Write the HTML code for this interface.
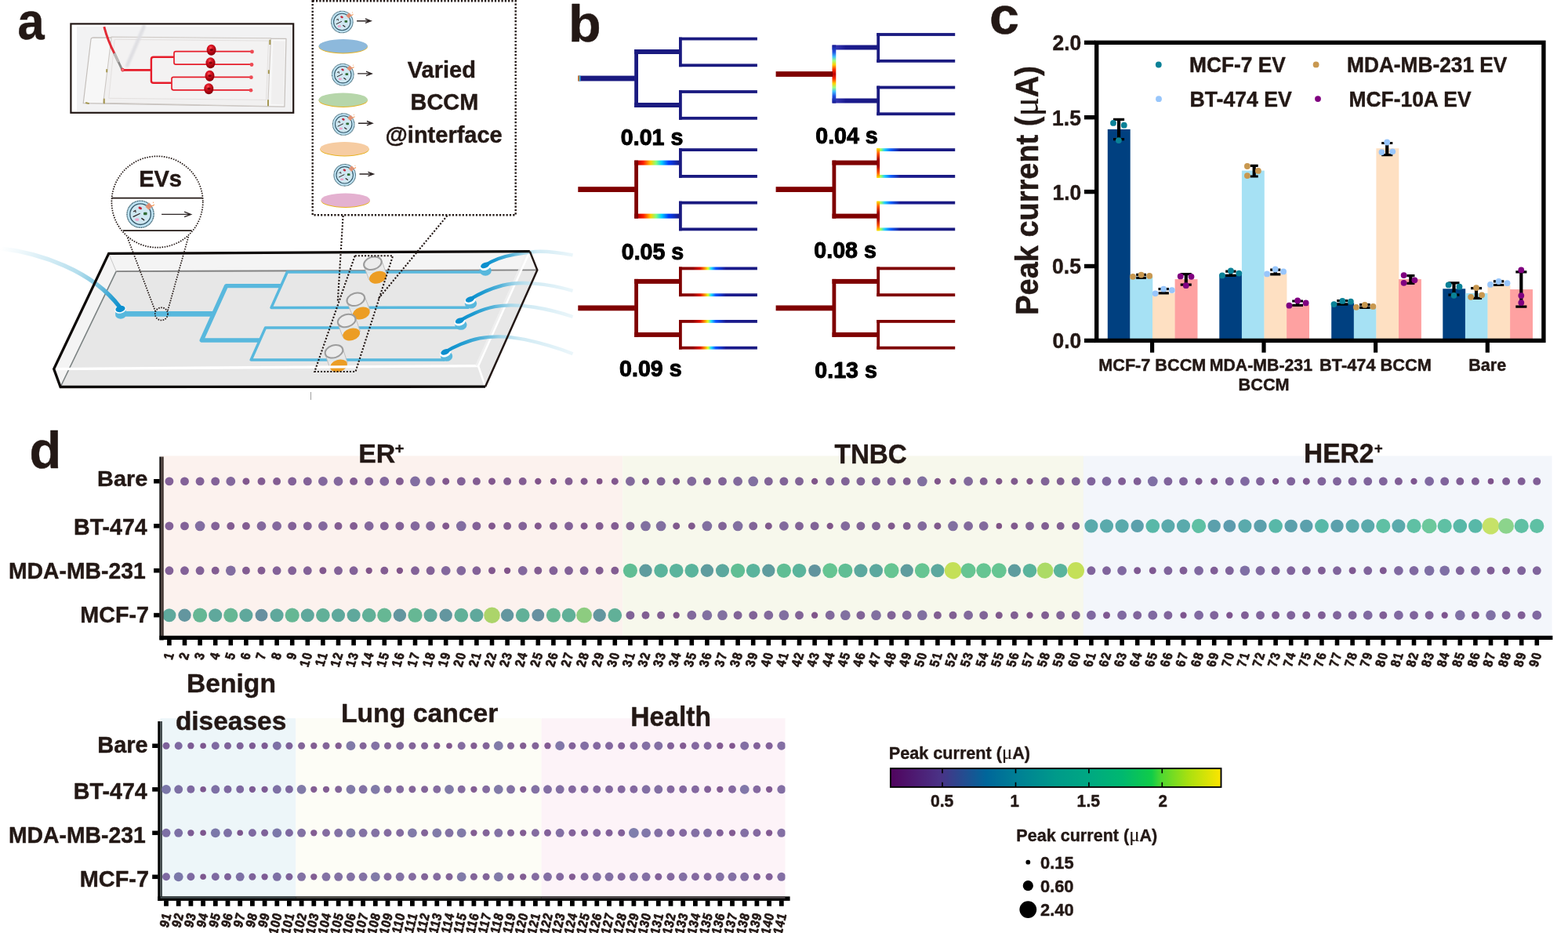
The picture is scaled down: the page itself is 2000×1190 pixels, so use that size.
<!DOCTYPE html>
<html lang="en">
<head>
<meta charset="utf-8">
<title>Figure</title>
<style>
html,body{margin:0;padding:0;background:#fff;}
body{width:2000px;height:1190px;overflow:hidden;}
svg{display:block;}
text{font-family:"Liberation Sans",sans-serif;font-weight:bold;fill:#231815;stroke:#231815;stroke-linejoin:round;}
.k{fill:#000;stroke:#000;}
.sym{font-family:"Liberation Serif",serif;font-weight:normal;stroke-width:0.2px;}
</style>
</head>
<body>
<svg width="2000" height="1190" viewBox="0 0 2000 1190">
<rect x="0" y="0" width="2000" height="1190" fill="#ffffff"/>
<g id="panel-a">
<text transform="translate(22.48,49.51) scale(0.9189,1)" font-size="66.82" stroke-width="0.45">a</text>
<g id="photo"><defs><filter id="blur1" x="-20%" y="-20%" width="140%" height="140%"><feGaussianBlur stdDeviation="1.1"/></filter><filter id="blur2" x="-20%" y="-20%" width="140%" height="140%"><feGaussianBlur stdDeviation="0.45"/></filter><radialGradient id="ball" cx="0.42" cy="0.3" r="0.75"><stop offset="0" stop-color="#ff5a5e"/><stop offset="0.25" stop-color="#e21a28"/><stop offset="0.6" stop-color="#b00612"/><stop offset="1" stop-color="#7c0008"/></radialGradient></defs><rect x="90.4" y="30.4" width="283.8" height="113.4" fill="#ffffff"/><rect x="98" y="33.6" width="274.6" height="108.6" fill="#f2f2f3"/><g filter="url(#blur2)"><path d="M119.3,47.9L365.0,49.4L362.9,136.2L106.2,131.7L116.0,50.0Q116.4,47.9 119.3,47.9Z" fill="#f7f7f7" stroke="#c4bfbb" stroke-width="1.2" stroke-linejoin="round"/><path d="M142.2,47.0L345.5,48.8L341.7,135.5L131.7,131.3Z" fill="#f1f0f0" stroke="#cdc8c4" stroke-width="1.1"/><path d="M146.3,50.3L342.5,52.1L339.5,127.4L138.8,125.3Z" fill="#f3f2f2" stroke="#e0dcda" stroke-width="0.8"/><path d="M348.5,52.2L363.5,52.7L361.4,133.2L345.8,132.8Z" fill="#f0efef" stroke="none"/><path d="M183.5,34.2L162.2,83.7" stroke="#dedee2" stroke-width="4.6" stroke-linecap="round" fill="none" opacity="0.95" filter="url(#blur1)"/><path d="M136.2,88.2L136.2,92.3" stroke="#a3954c" stroke-width="1.9" fill="none"/><path d="M132.8,125.7L132.8,132.2" stroke="#a3954c" stroke-width="1.9" fill="none"/><path d="M344.3,50.7L344.3,57.0" stroke="#a3954c" stroke-width="1.9" fill="none"/><path d="M342.8,89.3L342.8,94.1" stroke="#a3954c" stroke-width="1.9" fill="none"/><path d="M342.0,127.2L342.0,135.2" stroke="#a3954c" stroke-width="1.9" fill="none"/><path d="M109.2,131.0L113.7,132.2" stroke="#a3954c" stroke-width="1.9" fill="none"/><path d="M155.7,89.3H192.5" stroke="#e61e2a" stroke-width="2.8" fill="none"/><path d="M221.7,72.8H195.8Q192.9,72.8 192.9,75.8V102.9Q192.9,105.8 195.8,105.8H218.7" stroke="#e61e2a" stroke-width="2.4" fill="none"/><path d="M321.5,65.7H224.3Q222.0,65.7 222.0,68.0V80.0Q222.0,82.1 224.3,82.1H321.0" stroke="#e61e2a" stroke-width="1.7" fill="none"/><path d="M320.4,98.3H221.3Q219.0,98.3 219.0,100.5V112.5Q219.0,114.8 221.3,114.8H320.0" stroke="#e61e2a" stroke-width="1.7" fill="none"/><ellipse cx="269.6" cy="63.8" rx="6.0" ry="7.0" fill="url(#ball)"/><ellipse cx="269.8" cy="63.6" rx="2.2" ry="1.6" fill="#6c0006" opacity="0.8"/><ellipse cx="268.5" cy="80.3" rx="6.0" ry="7.0" fill="url(#ball)"/><ellipse cx="268.7" cy="80.1" rx="2.2" ry="1.6" fill="#6c0006" opacity="0.8"/><ellipse cx="267.5" cy="96.8" rx="6.0" ry="7.0" fill="url(#ball)"/><ellipse cx="267.7" cy="96.6" rx="2.2" ry="1.6" fill="#6c0006" opacity="0.8"/><ellipse cx="266.3" cy="113.3" rx="6.0" ry="7.0" fill="url(#ball)"/><ellipse cx="266.5" cy="113.1" rx="2.2" ry="1.6" fill="#6c0006" opacity="0.8"/><circle cx="321.5" cy="66.0" r="2.4" fill="#ee4a52"/><circle cx="321.0" cy="82.5" r="2.4" fill="#ee4a52"/><circle cx="320.4" cy="98.7" r="2.4" fill="#ee4a52"/><circle cx="320.0" cy="115.2" r="2.4" fill="#ee4a52"/><path d="M132.8,34.2C135.8,45.5 140.3,57.5 146.0,68.3" stroke="#e22a36" stroke-width="2.9" fill="none"/><path d="M145.7,67.7L155.3,87.8" stroke="#8a8887" stroke-width="2.8" fill="none"/><path d="M146.0,68.3L151.1,79.2" stroke="#b9b6b4" stroke-width="3.4" fill="none"/><circle cx="156.5" cy="89.1" r="1.9" fill="#f08088" stroke="#e61e2a" stroke-width="0.9"/></g><rect x="90.4" y="30.4" width="283.8" height="113.4" fill="none" stroke="#231815" stroke-width="2.2"/></g>
<g id="slab">
<defs><linearGradient id="tubeL" gradientUnits="userSpaceOnUse" x1="0" y1="318" x2="153" y2="392"><stop offset="0" stop-color="#d9eef6" stop-opacity="0"/><stop offset="0.3" stop-color="#d4ecf5" stop-opacity="0.85"/><stop offset="0.6" stop-color="#b4deed"/><stop offset="0.78" stop-color="#7cc4df"/><stop offset="0.92" stop-color="#2b9fd1"/><stop offset="1" stop-color="#0b8fce"/></linearGradient><linearGradient id="tubeR" gradientUnits="objectBoundingBox" x1="0" y1="0" x2="1" y2="0"><stop offset="0" stop-color="#0b8fce"/><stop offset="0.12" stop-color="#1c9ad0"/><stop offset="0.3" stop-color="#55b3d9"/><stop offset="0.45" stop-color="#a3d6e9" stop-opacity="0.95"/><stop offset="0.6" stop-color="#c9e7f2" stop-opacity="0.85"/><stop offset="0.85" stop-color="#d9eef6" stop-opacity="0.8"/><stop offset="1" stop-color="#e2f2f8" stop-opacity="0.7"/></linearGradient></defs>
<polygon points="138.7,323.4 675.8,320.6 685.3,344.4 619.0,493.2 77.1,493.5 68.7,470.6" fill="#e7e7e7"/>
<polygon points="138.7,323.4 675.8,320.6 685.3,344.4 148.2,346.1" fill="#f4f4f4"/>
<polygon points="138.7,323.4 148.2,346.1 77.1,493.5 68.7,470.6" fill="#f4f4f4"/>
<path d="M148.2,346.1L685.3,344.4" stroke="#828282" stroke-width="1.9" fill="none"/>
<path d="M148.2,346.1L77.1,493.5" stroke="#7a8181" stroke-width="1.6" fill="none"/>
<path d="M138.7,323.4L148.2,346.1" stroke="#c4c4c4" stroke-width="0.9" fill="none"/>
<path d="M616,347L366.3,347L346,392.4L598,392.2" stroke="#58b8dd" stroke-width="3.5" stroke-linejoin="round" stroke-linecap="butt" fill="none"/><path d="M585,417.9L338.6,417.9L320.2,459L567,459" stroke="#58b8dd" stroke-width="3.5" stroke-linejoin="round" stroke-linecap="butt" fill="none"/><path d="M358.6,364.6L288.6,364.6L257.2,434L331.4,434" stroke="#58b8dd" stroke-width="5.3" stroke-linejoin="round" stroke-linecap="butt" fill="none"/><path d="M158,400.4H272.6" stroke="#58b8dd" stroke-width="6.6" fill="none"/>
<path d="M147.2,395.5v6.6a6.7,4.6 0 0 0 13.4,0v-6.6z" fill="#58b8dd"/>
<ellipse cx="153.5" cy="394.6" rx="7.4" ry="5.1" fill="#ffffff" transform="rotate(-12 153.5 394.6)"/>
<ellipse cx="153.5" cy="394.0" rx="6.2" ry="4.0" fill="#0b8fce" transform="rotate(-12 153.5 394.0)"/>
<path d="M-2,316.5C50,322 118,345 153,392" stroke="url(#tubeL)" stroke-width="5.4" fill="none" stroke-linecap="round"/>
<ellipse cx="619.2" cy="345.3" rx="7.6" ry="6.4" fill="#58b8dd"/>
<ellipse cx="618.5" cy="340.2" rx="7.2" ry="4.6" fill="#ffffff" transform="rotate(-18 618.2 338.8)"/>
<ellipse cx="600.5" cy="387.2" rx="7.6" ry="6.4" fill="#58b8dd"/>
<ellipse cx="599.3" cy="383.59999999999997" rx="7.2" ry="4.6" fill="#ffffff" transform="rotate(-18 599.0 382.2)"/>
<ellipse cx="587.9" cy="414.4" rx="7.6" ry="6.4" fill="#58b8dd"/>
<ellipse cx="586.1999999999999" cy="410.79999999999995" rx="7.2" ry="4.6" fill="#ffffff" transform="rotate(-18 585.9 409.4)"/>
<ellipse cx="569.6" cy="454.4" rx="7.6" ry="6.4" fill="#58b8dd"/>
<ellipse cx="567.6999999999999" cy="450.7" rx="7.2" ry="4.6" fill="#ffffff" transform="rotate(-18 567.4 449.3)"/>
<polygon points="463.79999999999995,338.3 470.7,356.8 493.29999999999995,350.6 487.0,332.7" fill="#e9e9e9" opacity="0.92"/>
<ellipse cx="481.9" cy="353.8" rx="11.3" ry="7.6" fill="#ec9d24" transform="rotate(-17 481.9 353.8)"/>
<path d="M463.9,338.5L470.79999999999995,357.0 M486.9,332.5L493.2,350.40000000000003" stroke="#bdbdbd" stroke-width="1" fill="none"/>
<ellipse cx="475.4" cy="335.7" rx="11.6" ry="7.9" fill="#ececec" stroke="#9c9c9c" stroke-width="2" transform="rotate(-17 475.4 335.7)"/>
<polygon points="442.2,384.40000000000003 449.6,402.5 472.2,396.3 465.40000000000003,378.8" fill="#e9e9e9" opacity="0.92"/>
<ellipse cx="460.8" cy="399.5" rx="11.3" ry="7.6" fill="#ec9d24" transform="rotate(-17 460.8 399.5)"/>
<path d="M442.3,384.6L449.7,402.7 M465.3,378.6L472.1,396.1" stroke="#bdbdbd" stroke-width="1" fill="none"/>
<ellipse cx="453.8" cy="381.8" rx="11.6" ry="7.9" fill="#ececec" stroke="#9c9c9c" stroke-width="2" transform="rotate(-17 453.8 381.8)"/>
<polygon points="430.59999999999997,411.6 437.0,429.4 459.59999999999997,423.2 453.8,406.0" fill="#e9e9e9" opacity="0.92"/>
<ellipse cx="448.2" cy="426.4" rx="11.3" ry="7.6" fill="#ec9d24" transform="rotate(-17 448.2 426.4)"/>
<path d="M430.7,411.8L437.09999999999997,429.59999999999997 M453.7,405.8L459.5,423.0" stroke="#bdbdbd" stroke-width="1" fill="none"/>
<ellipse cx="442.2" cy="409.0" rx="11.6" ry="7.9" fill="#ececec" stroke="#9c9c9c" stroke-width="2" transform="rotate(-17 442.2 409.0)"/>
<polygon points="414.4,450.90000000000003 420.8,469.5 443.4,463.3 437.6,445.3" fill="#e9e9e9" opacity="0.92"/>
<ellipse cx="432.0" cy="466.5" rx="11.3" ry="7.6" fill="#ec9d24" transform="rotate(-17 432.0 466.5)"/>
<path d="M414.5,451.1L420.9,469.7 M437.5,445.1L443.3,463.1" stroke="#bdbdbd" stroke-width="1" fill="none"/>
<ellipse cx="426.0" cy="448.3" rx="11.6" ry="7.9" fill="#ececec" stroke="#9c9c9c" stroke-width="2" transform="rotate(-17 426.0 448.3)"/>
<path d="M68.7,470.6L610.0,466.6" stroke="#ffffff" stroke-width="3.4" fill="none"/>
<path d="M610.0,466.6L674.3,323.4 M610.0,466.6L619.0,493.2" stroke="#ffffff" stroke-width="2.6" fill="none" stroke-linejoin="round"/>
<path d="M607.4,466.6L671.6,323.6" stroke="#f1f1f1" stroke-width="2.6" fill="none" opacity="0.8"/>
<path d="M618.2,338.8C626,333.4 640,327.4 656,324.6C664,323.4 670,322.6 676.5,321.6C690,319.6 710,321.5 730.6,325.4" stroke="url(#tubeR)" stroke-width="4.4" fill="none" stroke-linecap="butt"/>
<ellipse cx="618.8000000000001" cy="338.6" rx="5.9" ry="3.4" fill="#0b8fce" transform="rotate(-22 618.2 338.8)"/>
<path d="M599,382.2C608,376.5 624,368.5 640.9,364C654,360.6 668,360.4 681.2,361.6C698,363 714,366 730.6,370.8" stroke="url(#tubeR)" stroke-width="4.4" fill="none" stroke-linecap="butt"/>
<ellipse cx="599.6" cy="382.0" rx="5.9" ry="3.4" fill="#0b8fce" transform="rotate(-22 599.0 382.2)"/>
<path d="M585.9,409.4C596,403 614,394.6 630.8,391.2C644,388.8 664,389.2 681.2,391.8C698,394.4 714,398.4 730.6,404" stroke="url(#tubeR)" stroke-width="4.4" fill="none" stroke-linecap="butt"/>
<ellipse cx="586.5" cy="409.2" rx="5.9" ry="3.4" fill="#0b8fce" transform="rotate(-22 585.9 409.4)"/>
<path d="M567.4,449.3C578,442.5 596,434.6 612,431.4C632,427.8 652,429.4 670,433.2C692,438 712,444 730.6,451.2" stroke="url(#tubeR)" stroke-width="4.4" fill="none" stroke-linecap="butt"/>
<ellipse cx="568.0" cy="449.1" rx="5.9" ry="3.4" fill="#0b8fce" transform="rotate(-22 567.4 449.3)"/>
<path d="M675.8,320.6L138.7,323.4L68.7,470.6L77.1,493.5L619.0,493.2" fill="none" stroke="#0d0907" stroke-width="3.3" stroke-linejoin="miter"/>
<path d="M675.8,320.6L685.3,344.4L619.0,493.2" fill="none" stroke="#231815" stroke-width="2.5" stroke-linejoin="miter"/>
<path d="M452.7,326.3H501.1L453.5,474H401.3Z" fill="none" stroke="#231815" stroke-width="2.1" stroke-dasharray="2.1 2.0"/>
<path d="M437.6,275L430.8,384.2" fill="none" stroke="#231815" stroke-width="2.1" stroke-dasharray="2.1 2.0"/>
<path d="M570.5,275L482.4,381.2" fill="none" stroke="#231815" stroke-width="2.1" stroke-dasharray="2.1 2.0"/>
<path d="M162.6,303L198.2,397.2 M240.3,302L213.7,397.2" fill="none" stroke="#231815" stroke-width="1.7" stroke-dasharray="1.6 1.5"/>
<circle cx="205.9" cy="400.4" r="8.1" fill="none" stroke="#231815" stroke-width="1.7" stroke-dasharray="1.6 1.5"/>
<g id="magnifier"><circle cx="200.6" cy="257.5" r="58.2" fill="#ffffff" stroke="#231815" stroke-width="1.7" stroke-dasharray="1.6 1.5"/><path d="M142.6,252.6H258.6M156.8,294.1H244.6" stroke="#231815" stroke-width="1.9" fill="none"/><text transform="translate(177.14,238.28) scale(1.0097,1)" font-size="28.77" stroke-width="0.45">EVs</text><g transform="translate(179.1,273.2) scale(1.24)"><circle r="13.8" fill="#bfe3f3" stroke="#3f6675" stroke-width="1.1" stroke-dasharray="0.9 0.35"/><circle r="10.7" fill="#cfe7f1" stroke="#35596a" stroke-width="1.1"/><g transform="translate(8.7,-8.1) rotate(-45)"><rect x="-2.7" y="-2.5" width="5.4" height="5" fill="#e79c7e"/><path d="M-1.35,-2.5V2.5M0,-2.5V2.5M1.35,-2.5V2.5M-2.7,-1.2H2.7M-2.7,0.1H2.7M-2.7,1.4H2.7" stroke="#d5826a" stroke-width="0.45" fill="none"/></g><path d="M11.4,-8.6l2.3,-0.3l0.2,-1.3M13.2,-11.6v-0.9" stroke="#f0853a" stroke-width="0.8" fill="none"/><ellipse cx="-0.3" cy="-6.3" rx="1.9" ry="1.3" fill="#c1283a" transform="rotate(25 -0.3 -6.3)"/><rect x="3.2" y="-2.0" width="3.6" height="2.8" rx="0.7" fill="#2f6b33"/><rect x="-5.4" y="4.2" width="3.9" height="2.6" rx="0.9" fill="#f0a3c9"/><path d="M-7.2,2.6L-0.7,-0.6" stroke="#2e2626" stroke-width="1" stroke-linecap="round" fill="none"/><path d="M-7.3,-2.6l2.2,-1.2l0.3,2.2" stroke="#2e2626" stroke-width="0.9" fill="none"/><path d="M1.4,4.4l2.3,1.6" stroke="#2e2626" stroke-width="1.2" stroke-linecap="round" fill="none"/></g><path d="M206.1,273.4H243.6M235.1,270.2L243.6,273.4L235.1,276.59999999999997" stroke="#2e2626" stroke-width="1.3" fill="none" stroke-linejoin="miter"/></g>
<g id="bccm-box"><rect x="398.7" y="1.3" width="259" height="272.9" fill="#ffffff" stroke="#231815" stroke-width="2.4" stroke-dasharray="2.2 2.1"/><g transform="translate(436.3,28.0) scale(1.0)"><circle r="13.8" fill="#bfe3f3" stroke="#3f6675" stroke-width="1.1" stroke-dasharray="0.9 0.35"/><circle r="10.7" fill="#cfe7f1" stroke="#35596a" stroke-width="1.1"/><g transform="translate(8.7,-8.1) rotate(-45)"><rect x="-2.7" y="-2.5" width="5.4" height="5" fill="#e79c7e"/><path d="M-1.35,-2.5V2.5M0,-2.5V2.5M1.35,-2.5V2.5M-2.7,-1.2H2.7M-2.7,0.1H2.7M-2.7,1.4H2.7" stroke="#d5826a" stroke-width="0.45" fill="none"/></g><path d="M11.4,-8.6l2.3,-0.3l0.2,-1.3M13.2,-11.6v-0.9" stroke="#f0853a" stroke-width="0.8" fill="none"/><ellipse cx="-0.3" cy="-6.3" rx="1.9" ry="1.3" fill="#c1283a" transform="rotate(25 -0.3 -6.3)"/><rect x="3.2" y="-2.0" width="3.6" height="2.8" rx="0.7" fill="#2f6b33"/><rect x="-5.4" y="4.2" width="3.9" height="2.6" rx="0.9" fill="#f0a3c9"/><path d="M-7.2,2.6L-0.7,-0.6" stroke="#2e2626" stroke-width="1" stroke-linecap="round" fill="none"/><path d="M-7.3,-2.6l2.2,-1.2l0.3,2.2" stroke="#2e2626" stroke-width="0.9" fill="none"/><path d="M1.4,4.4l2.3,1.6" stroke="#2e2626" stroke-width="1.2" stroke-linecap="round" fill="none"/></g><path d="M455.1,26.7H473.0M466.0,24.0L473.0,26.7L466.0,29.4" stroke="#2e2626" stroke-width="1.4" fill="none" stroke-linejoin="miter"/><g transform="translate(437.3,95.2) scale(1.0)"><circle r="13.8" fill="#bfe3f3" stroke="#3f6675" stroke-width="1.1" stroke-dasharray="0.9 0.35"/><circle r="10.7" fill="#cfe7f1" stroke="#35596a" stroke-width="1.1"/><g transform="translate(8.7,-8.1) rotate(-45)"><rect x="-2.7" y="-2.5" width="5.4" height="5" fill="#e79c7e"/><path d="M-1.35,-2.5V2.5M0,-2.5V2.5M1.35,-2.5V2.5M-2.7,-1.2H2.7M-2.7,0.1H2.7M-2.7,1.4H2.7" stroke="#d5826a" stroke-width="0.45" fill="none"/></g><path d="M11.4,-8.6l2.3,-0.3l0.2,-1.3M13.2,-11.6v-0.9" stroke="#f0853a" stroke-width="0.8" fill="none"/><ellipse cx="-0.3" cy="-6.3" rx="1.9" ry="1.3" fill="#c1283a" transform="rotate(25 -0.3 -6.3)"/><rect x="3.2" y="-2.0" width="3.6" height="2.8" rx="0.7" fill="#2f6b33"/><rect x="-5.4" y="4.2" width="3.9" height="2.6" rx="0.9" fill="#f0a3c9"/><path d="M-7.2,2.6L-0.7,-0.6" stroke="#2e2626" stroke-width="1" stroke-linecap="round" fill="none"/><path d="M-7.3,-2.6l2.2,-1.2l0.3,2.2" stroke="#2e2626" stroke-width="0.9" fill="none"/><path d="M1.4,4.4l2.3,1.6" stroke="#2e2626" stroke-width="1.2" stroke-linecap="round" fill="none"/></g><path d="M456.1,93.9H474.0M467.0,91.2L474.0,93.9L467.0,96.60000000000001" stroke="#2e2626" stroke-width="1.4" fill="none" stroke-linejoin="miter"/><g transform="translate(438.2,158.5) scale(1.0)"><circle r="13.8" fill="#bfe3f3" stroke="#3f6675" stroke-width="1.1" stroke-dasharray="0.9 0.35"/><circle r="10.7" fill="#cfe7f1" stroke="#35596a" stroke-width="1.1"/><g transform="translate(8.7,-8.1) rotate(-45)"><rect x="-2.7" y="-2.5" width="5.4" height="5" fill="#e79c7e"/><path d="M-1.35,-2.5V2.5M0,-2.5V2.5M1.35,-2.5V2.5M-2.7,-1.2H2.7M-2.7,0.1H2.7M-2.7,1.4H2.7" stroke="#d5826a" stroke-width="0.45" fill="none"/></g><path d="M11.4,-8.6l2.3,-0.3l0.2,-1.3M13.2,-11.6v-0.9" stroke="#f0853a" stroke-width="0.8" fill="none"/><ellipse cx="-0.3" cy="-6.3" rx="1.9" ry="1.3" fill="#c1283a" transform="rotate(25 -0.3 -6.3)"/><rect x="3.2" y="-2.0" width="3.6" height="2.8" rx="0.7" fill="#2f6b33"/><rect x="-5.4" y="4.2" width="3.9" height="2.6" rx="0.9" fill="#f0a3c9"/><path d="M-7.2,2.6L-0.7,-0.6" stroke="#2e2626" stroke-width="1" stroke-linecap="round" fill="none"/><path d="M-7.3,-2.6l2.2,-1.2l0.3,2.2" stroke="#2e2626" stroke-width="0.9" fill="none"/><path d="M1.4,4.4l2.3,1.6" stroke="#2e2626" stroke-width="1.2" stroke-linecap="round" fill="none"/></g><path d="M457.0,157.2H474.9M467.9,154.5L474.9,157.2L467.9,159.89999999999998" stroke="#2e2626" stroke-width="1.4" fill="none" stroke-linejoin="miter"/><g transform="translate(439.7,223.3) scale(1.0)"><circle r="13.8" fill="#bfe3f3" stroke="#3f6675" stroke-width="1.1" stroke-dasharray="0.9 0.35"/><circle r="10.7" fill="#cfe7f1" stroke="#35596a" stroke-width="1.1"/><g transform="translate(8.7,-8.1) rotate(-45)"><rect x="-2.7" y="-2.5" width="5.4" height="5" fill="#e79c7e"/><path d="M-1.35,-2.5V2.5M0,-2.5V2.5M1.35,-2.5V2.5M-2.7,-1.2H2.7M-2.7,0.1H2.7M-2.7,1.4H2.7" stroke="#d5826a" stroke-width="0.45" fill="none"/></g><path d="M11.4,-8.6l2.3,-0.3l0.2,-1.3M13.2,-11.6v-0.9" stroke="#f0853a" stroke-width="0.8" fill="none"/><ellipse cx="-0.3" cy="-6.3" rx="1.9" ry="1.3" fill="#c1283a" transform="rotate(25 -0.3 -6.3)"/><rect x="3.2" y="-2.0" width="3.6" height="2.8" rx="0.7" fill="#2f6b33"/><rect x="-5.4" y="4.2" width="3.9" height="2.6" rx="0.9" fill="#f0a3c9"/><path d="M-7.2,2.6L-0.7,-0.6" stroke="#2e2626" stroke-width="1" stroke-linecap="round" fill="none"/><path d="M-7.3,-2.6l2.2,-1.2l0.3,2.2" stroke="#2e2626" stroke-width="0.9" fill="none"/><path d="M1.4,4.4l2.3,1.6" stroke="#2e2626" stroke-width="1.2" stroke-linecap="round" fill="none"/></g><path d="M458.5,222.0H476.4M469.4,219.3L476.4,222.0L469.4,224.7" stroke="#2e2626" stroke-width="1.4" fill="none" stroke-linejoin="miter"/><ellipse cx="437.7" cy="59.699999999999996" rx="31.2" ry="8.8" fill="#e8b322"/><ellipse cx="437.7" cy="58.8" rx="31.2" ry="8.7" fill="#8db9dc"/><ellipse cx="437.7" cy="128.1" rx="31.2" ry="8.8" fill="#e8b322"/><ellipse cx="437.7" cy="127.2" rx="31.2" ry="8.7" fill="#b6d6aa"/><ellipse cx="439.5" cy="190.6" rx="31.2" ry="8.8" fill="#e8b322"/><ellipse cx="439.5" cy="189.7" rx="31.2" ry="8.7" fill="#f6cca2"/><ellipse cx="440.7" cy="256.09999999999997" rx="31.2" ry="8.8" fill="#e8b322"/><ellipse cx="440.7" cy="255.2" rx="31.2" ry="8.7" fill="#e4b1d0"/><text transform="translate(519.78,98.68) scale(0.9842,1)" font-size="29.49" stroke-width="0.45">Varied</text><text transform="translate(523.55,140.47) scale(0.9854,1)" font-size="29.35" stroke-width="0.45">BCCM</text><text transform="translate(491.53,182.18) scale(1.0095,1)" font-size="28.76" stroke-width="0.45">@interface</text></g>
<path d="M396.5,500V510" stroke="#777" stroke-width="0.7"/>
</g></g><g id="panel-b">
<defs>
<linearGradient id="jetH" x1="0" y1="0" x2="1" y2="0">
<stop offset="0" stop-color="#7f0000"/><stop offset="0.08" stop-color="#c00000"/><stop offset="0.2" stop-color="#ff2000"/><stop offset="0.36" stop-color="#ffd000"/><stop offset="0.48" stop-color="#80ff80"/><stop offset="0.6" stop-color="#00d0ff"/><stop offset="0.75" stop-color="#0040ff"/><stop offset="1" stop-color="#1a1a80"/>
</linearGradient>
<linearGradient id="jetV" x1="0" y1="0" x2="0" y2="1">
<stop offset="0" stop-color="#1a1a90"/><stop offset="0.12" stop-color="#2050e0"/><stop offset="0.2" stop-color="#40c0ff"/><stop offset="0.27" stop-color="#a0ff80"/><stop offset="0.34" stop-color="#ffd000"/><stop offset="0.42" stop-color="#ff3000"/><stop offset="0.5" stop-color="#c00000"/><stop offset="0.58" stop-color="#ff3000"/><stop offset="0.66" stop-color="#ffd000"/><stop offset="0.73" stop-color="#a0ff80"/><stop offset="0.8" stop-color="#40c0ff"/><stop offset="0.88" stop-color="#2050e0"/><stop offset="1" stop-color="#1a1a90"/>
</linearGradient>
<linearGradient id="v2g" x1="0" y1="0" x2="0" y2="1">
<stop offset="0" stop-color="#ffe000"/><stop offset="0.18" stop-color="#ff5000"/><stop offset="0.4" stop-color="#a00000"/><stop offset="0.6" stop-color="#a00000"/><stop offset="0.82" stop-color="#ff5000"/><stop offset="1" stop-color="#ffe000"/>
</linearGradient>
<linearGradient id="h2a" x1="0" y1="0" x2="1" y2="0">
<stop offset="0" stop-color="#ffe000"/><stop offset="0.05" stop-color="#a0ff60"/><stop offset="0.1" stop-color="#20d0ff"/><stop offset="0.18" stop-color="#1060ff"/><stop offset="0.3" stop-color="#1a1a90"/><stop offset="1" stop-color="#1a1a80"/>
</linearGradient>
<linearGradient id="h2b" x1="0" y1="0" x2="1" y2="0">
<stop offset="0" stop-color="#7f0000"/><stop offset="0.18" stop-color="#900000"/><stop offset="0.27" stop-color="#e01000"/><stop offset="0.33" stop-color="#ff9000"/><stop offset="0.37" stop-color="#e0ff20"/><stop offset="0.41" stop-color="#20e0ff"/><stop offset="0.47" stop-color="#1050ff"/><stop offset="0.6" stop-color="#1a1a90"/><stop offset="1" stop-color="#1a1a80"/>
</linearGradient>
<linearGradient id="h1b" x1="0" y1="0" x2="1" y2="0">
<stop offset="0" stop-color="#4040c0"/><stop offset="0.3" stop-color="#1a1a90"/><stop offset="1" stop-color="#1a1a80"/>
</linearGradient>
</defs>
<rect x="866.0" y="47.6" width="99.9" height="3.8" fill="#1a1a80"/><rect x="866.0" y="81.4" width="99.9" height="3.8" fill="#1a1a80"/><rect x="866.0" y="115.1" width="99.9" height="3.8" fill="#1a1a80"/><rect x="866.0" y="148.9" width="99.9" height="3.8" fill="#1a1a80"/><rect x="866.0" y="47.6" width="3.8" height="37.6" fill="#1a1a80"/><rect x="866.0" y="115.1" width="3.8" height="37.6" fill="#1a1a80"/><rect x="809.2" y="63.0" width="57.8" height="6" fill="#1a1a80"/><rect x="809.2" y="131.0" width="57.8" height="6" fill="#1a1a80"/><rect x="809.2" y="63.0" width="4.8" height="74" fill="#1a1a80"/><rect x="737.3" y="96.6" width="72.5" height="6.8" fill="#1a1a80"/>
<rect x="737.3" y="96.6" width="1.6" height="6.8" fill="#e08020"/><rect x="738.9" y="96.6" width="1.6" height="6.8" fill="#30b0e0"/>
<rect x="1118.3" y="42.1" width="99.9" height="3.8" fill="#1a1a80"/><rect x="1118.3" y="75.9" width="99.9" height="3.8" fill="#1a1a80"/><rect x="1118.3" y="109.6" width="99.9" height="3.8" fill="#1a1a80"/><rect x="1118.3" y="143.4" width="99.9" height="3.8" fill="#1a1a80"/><rect x="1118.3" y="42.1" width="3.8" height="37.6" fill="#1a1a80"/><rect x="1118.3" y="109.6" width="3.8" height="37.6" fill="#1a1a80"/><rect x="1061.5" y="57.5" width="57.8" height="6" fill="url(#h1b)"/><rect x="1061.5" y="125.5" width="57.8" height="6" fill="url(#h1b)"/><rect x="1061.5" y="57.5" width="4.8" height="74" fill="url(#jetV)"/><rect x="989.6" y="91.1" width="72.5" height="6.8" fill="#7f0000"/>
<rect x="866.0" y="189.2" width="99.9" height="3.8" fill="#1a1a80"/><rect x="866.0" y="223.0" width="99.9" height="3.8" fill="#1a1a80"/><rect x="866.0" y="256.7" width="99.9" height="3.8" fill="#1a1a80"/><rect x="866.0" y="290.5" width="99.9" height="3.8" fill="#1a1a80"/><rect x="866.0" y="189.2" width="3.8" height="37.6" fill="#1a1a80"/><rect x="866.0" y="256.7" width="3.8" height="37.6" fill="#1a1a80"/><rect x="809.2" y="204.6" width="57.8" height="6" fill="url(#jetH)"/><rect x="809.2" y="272.6" width="57.8" height="6" fill="url(#jetH)"/><rect x="809.2" y="204.6" width="4.8" height="74" fill="#7f0000"/><rect x="737.3" y="238.2" width="72.5" height="6.8" fill="#7f0000"/>
<rect x="1118.3" y="189.2" width="99.9" height="3.8" fill="url(#h2a)"/><rect x="1118.3" y="223.0" width="99.9" height="3.8" fill="url(#h2a)"/><rect x="1118.3" y="256.7" width="99.9" height="3.8" fill="url(#h2a)"/><rect x="1118.3" y="290.5" width="99.9" height="3.8" fill="url(#h2a)"/><rect x="1118.3" y="189.2" width="3.8" height="37.6" fill="url(#v2g)"/><rect x="1118.3" y="256.7" width="3.8" height="37.6" fill="url(#v2g)"/><rect x="1061.5" y="204.6" width="57.8" height="6" fill="#7f0000"/><rect x="1061.5" y="272.6" width="57.8" height="6" fill="#7f0000"/><rect x="1061.5" y="204.6" width="4.8" height="74" fill="#7f0000"/><rect x="989.6" y="238.2" width="72.5" height="6.8" fill="#7f0000"/>
<rect x="866.0" y="340.5" width="99.9" height="3.8" fill="url(#h2b)"/><rect x="866.0" y="374.3" width="99.9" height="3.8" fill="url(#h2b)"/><rect x="866.0" y="408.0" width="99.9" height="3.8" fill="url(#h2b)"/><rect x="866.0" y="441.8" width="99.9" height="3.8" fill="url(#h2b)"/><rect x="866.0" y="340.5" width="3.8" height="37.6" fill="#7f0000"/><rect x="866.0" y="408.0" width="3.8" height="37.6" fill="#7f0000"/><rect x="809.2" y="355.9" width="57.8" height="6" fill="#7f0000"/><rect x="809.2" y="423.9" width="57.8" height="6" fill="#7f0000"/><rect x="809.2" y="355.9" width="4.8" height="74" fill="#7f0000"/><rect x="737.3" y="389.5" width="72.5" height="6.8" fill="#7f0000"/>
<rect x="1118.3" y="340.5" width="99.9" height="3.8" fill="#7f0000"/><rect x="1118.3" y="374.3" width="99.9" height="3.8" fill="#7f0000"/><rect x="1118.3" y="408.0" width="99.9" height="3.8" fill="#7f0000"/><rect x="1118.3" y="441.8" width="99.9" height="3.8" fill="#7f0000"/><rect x="1118.3" y="340.5" width="3.8" height="37.6" fill="#7f0000"/><rect x="1118.3" y="408.0" width="3.8" height="37.6" fill="#7f0000"/><rect x="1061.5" y="355.9" width="57.8" height="6" fill="#7f0000"/><rect x="1061.5" y="423.9" width="57.8" height="6" fill="#7f0000"/><rect x="1061.5" y="355.9" width="4.8" height="74" fill="#7f0000"/><rect x="989.6" y="389.5" width="72.5" height="6.8" fill="#7f0000"/>
<text class="k" transform="translate(791.86,185.25) scale(0.9748,1)" font-size="29.35" stroke-width="1.0">0.01 s</text>
<text class="k" transform="translate(1040.26,182.50) scale(0.9748,1)" font-size="29.35" stroke-width="1.0">0.04 s</text>
<text class="k" transform="translate(792.76,331.25) scale(0.9748,1)" font-size="29.35" stroke-width="1.0">0.05 s</text>
<text class="k" transform="translate(1038.36,329.00) scale(0.9748,1)" font-size="29.35" stroke-width="1.0">0.08 s</text>
<text class="k" transform="translate(790.11,480.25) scale(0.9748,1)" font-size="29.35" stroke-width="1.0">0.09 s</text>
<text class="k" transform="translate(1039.36,482.25) scale(0.9748,1)" font-size="29.35" stroke-width="1.0">0.13 s</text>
<text transform="translate(724.89,52.61) scale(1.0201,1)" font-size="66.87" stroke-width="0.45">b</text>
</g><g id="panel-c">
<rect x="1412.8" y="164.9" width="28.9" height="269.5" fill="#004080"/>
<rect x="1441.4" y="352.8" width="28.9" height="81.6" fill="#a6e1f4"/>
<rect x="1470.0" y="373.7" width="28.9" height="60.7" fill="#fee0c2"/>
<rect x="1498.6" y="356.1" width="28.9" height="78.3" fill="#fea1a1"/>
<rect x="1555.3" y="349.9" width="28.9" height="84.5" fill="#004080"/>
<rect x="1583.9" y="217.6" width="28.9" height="216.8" fill="#a6e1f4"/>
<rect x="1612.5" y="348.6" width="28.9" height="85.8" fill="#fee0c2"/>
<rect x="1641.1" y="388.8" width="28.9" height="45.6" fill="#fea1a1"/>
<rect x="1698.2" y="386.4" width="28.9" height="48.0" fill="#004080"/>
<rect x="1726.8" y="392.3" width="28.9" height="42.1" fill="#a6e1f4"/>
<rect x="1755.4" y="189.2" width="28.9" height="245.2" fill="#fee0c2"/>
<rect x="1784.0" y="356.1" width="28.9" height="78.3" fill="#fea1a1"/>
<rect x="1840.3" y="368.3" width="28.9" height="66.1" fill="#004080"/>
<rect x="1868.9" y="374.0" width="28.9" height="60.4" fill="#a6e1f4"/>
<rect x="1897.5" y="364.0" width="28.9" height="70.4" fill="#fee0c2"/>
<rect x="1926.1" y="369.1" width="28.9" height="65.3" fill="#fea1a1"/>
<path d="M1420.0,152.4H1434.1M1420.0,177.6H1434.1" stroke="#000" stroke-width="3.2" fill="none"/>
<path d="M1427.1,152.4V177.6" stroke="#000" stroke-width="4.2" fill="none"/>
<circle cx="1420.0" cy="156.9" r="3.9" fill="#0a8197"/>
<circle cx="1433.8" cy="159.7" r="3.9" fill="#0a8197"/>
<circle cx="1426.9" cy="179.1" r="3.9" fill="#0a8197"/>
<path d="M1449.2,350.3H1462.0M1449.2,354.3H1462.0" stroke="#000" stroke-width="3.2" fill="none"/>
<path d="M1455.6,350.3V354.3" stroke="#000" stroke-width="4.2" fill="none"/>
<circle cx="1445.0" cy="352.8" r="3.9" fill="#c89850"/>
<circle cx="1455.6" cy="350.6" r="3.9" fill="#c89850"/>
<circle cx="1466.2" cy="351.9" r="3.9" fill="#c89850"/>
<path d="M1477.5,368.6H1490.9M1477.5,373.9H1490.9" stroke="#000" stroke-width="3.2" fill="none"/>
<path d="M1484.2,368.6V373.9" stroke="#000" stroke-width="4.2" fill="none"/>
<circle cx="1473.6" cy="374.3" r="3.9" fill="#98c6fb"/>
<circle cx="1484.2" cy="368.7" r="3.9" fill="#98c6fb"/>
<circle cx="1494.8" cy="370.1" r="3.9" fill="#98c6fb"/>
<path d="M1505.7,349.6H1519.8M1505.7,363.2H1519.8" stroke="#000" stroke-width="3.2" fill="none"/>
<path d="M1512.8,349.6V363.2" stroke="#000" stroke-width="4.2" fill="none"/>
<circle cx="1505.7" cy="352.4" r="3.9" fill="#800080"/>
<circle cx="1519.5" cy="352.8" r="3.9" fill="#800080"/>
<circle cx="1512.8" cy="364.2" r="3.9" fill="#800080"/>
<path d="M1563.2,346.2H1576.6M1563.2,351.3H1576.6" stroke="#000" stroke-width="3.2" fill="none"/>
<path d="M1569.9,346.2V351.3" stroke="#000" stroke-width="4.2" fill="none"/>
<circle cx="1559.0" cy="351.4" r="3.9" fill="#0a8197"/>
<circle cx="1569.9" cy="345.5" r="3.9" fill="#0a8197"/>
<circle cx="1580.3" cy="348.6" r="3.9" fill="#0a8197"/>
<path d="M1594.6,211.3H1604.7M1594.6,225.0H1604.7" stroke="#000" stroke-width="3.2" fill="none"/>
<path d="M1599.7,211.3V225.0" stroke="#000" stroke-width="4.2" fill="none"/>
<circle cx="1590.9" cy="212.0" r="3.9" fill="#c89850"/>
<circle cx="1604.9" cy="217.9" r="3.9" fill="#c89850"/>
<circle cx="1590.9" cy="224.1" r="3.9" fill="#c89850"/>
<path d="M1620.2,344.2H1633.3M1620.2,349.9H1633.3" stroke="#000" stroke-width="3.2" fill="none"/>
<path d="M1626.7,344.2V349.9" stroke="#000" stroke-width="4.2" fill="none"/>
<circle cx="1616.1" cy="349.4" r="3.9" fill="#98c6fb"/>
<circle cx="1626.7" cy="343.5" r="3.9" fill="#98c6fb"/>
<circle cx="1637.1" cy="346.4" r="3.9" fill="#98c6fb"/>
<path d="M1648.2,384.0H1662.0M1648.2,389.4H1662.0" stroke="#000" stroke-width="3.2" fill="none"/>
<path d="M1655.1,384.0V389.4" stroke="#000" stroke-width="4.2" fill="none"/>
<circle cx="1644.4" cy="389.7" r="3.9" fill="#800080"/>
<circle cx="1655.1" cy="383.5" r="3.9" fill="#800080"/>
<circle cx="1665.7" cy="386.4" r="3.9" fill="#800080"/>
<path d="M1705.2,383.7H1719.3M1705.2,388.2H1719.3" stroke="#000" stroke-width="3.2" fill="none"/>
<path d="M1712.3,383.7V388.2" stroke="#000" stroke-width="4.2" fill="none"/>
<circle cx="1701.5" cy="388.1" r="3.9" fill="#0a8197"/>
<circle cx="1712.3" cy="383.9" r="3.9" fill="#0a8197"/>
<circle cx="1722.9" cy="384.7" r="3.9" fill="#0a8197"/>
<path d="M1734.1,388.6H1747.6M1734.1,392.4H1747.6" stroke="#000" stroke-width="3.2" fill="none"/>
<path d="M1740.8,388.6V392.4" stroke="#000" stroke-width="4.2" fill="none"/>
<circle cx="1729.9" cy="391.8" r="3.9" fill="#c89850"/>
<circle cx="1740.8" cy="388.9" r="3.9" fill="#c89850"/>
<circle cx="1751.4" cy="390.9" r="3.9" fill="#c89850"/>
<path d="M1762.2,182.5H1776.3M1762.2,197.6H1776.3" stroke="#000" stroke-width="3.2" fill="none"/>
<path d="M1769.2,182.5V197.6" stroke="#000" stroke-width="4.2" fill="none"/>
<circle cx="1769.2" cy="181.5" r="3.9" fill="#98c6fb"/>
<circle cx="1762.4" cy="194.1" r="3.9" fill="#98c6fb"/>
<circle cx="1776.3" cy="193.3" r="3.9" fill="#98c6fb"/>
<path d="M1794.3,351.6H1804.4M1794.3,361.3H1804.4" stroke="#000" stroke-width="3.2" fill="none"/>
<path d="M1799.3,351.6V361.3" stroke="#000" stroke-width="4.2" fill="none"/>
<circle cx="1790.6" cy="351.1" r="3.9" fill="#800080"/>
<circle cx="1790.6" cy="360.8" r="3.9" fill="#800080"/>
<circle cx="1804.4" cy="357.3" r="3.9" fill="#800080"/>
<path d="M1847.4,360.8H1861.5M1847.4,376.1H1861.5" stroke="#000" stroke-width="3.2" fill="none"/>
<path d="M1854.5,360.8V376.1" stroke="#000" stroke-width="4.2" fill="none"/>
<circle cx="1847.6" cy="363.4" r="3.9" fill="#0a8197"/>
<circle cx="1861.5" cy="365.7" r="3.9" fill="#0a8197"/>
<circle cx="1854.5" cy="376.8" r="3.9" fill="#0a8197"/>
<path d="M1876.0,367.7H1890.1M1876.0,380.3H1890.1" stroke="#000" stroke-width="3.2" fill="none"/>
<path d="M1883.0,367.7V380.3" stroke="#000" stroke-width="4.2" fill="none"/>
<circle cx="1883.0" cy="367.1" r="3.9" fill="#c89850"/>
<circle cx="1876.1" cy="378.8" r="3.9" fill="#c89850"/>
<circle cx="1890.1" cy="376.3" r="3.9" fill="#c89850"/>
<path d="M1904.9,358.8H1918.3M1904.9,363.5H1918.3" stroke="#000" stroke-width="3.2" fill="none"/>
<path d="M1911.6,358.8V363.5" stroke="#000" stroke-width="4.2" fill="none"/>
<circle cx="1901.0" cy="362.9" r="3.9" fill="#98c6fb"/>
<circle cx="1911.6" cy="359.0" r="3.9" fill="#98c6fb"/>
<circle cx="1922.5" cy="361.2" r="3.9" fill="#98c6fb"/>
<path d="M1933.3,346.9H1947.4M1933.3,391.1H1947.4" stroke="#000" stroke-width="3.2" fill="none"/>
<path d="M1940.3,346.9V391.1" stroke="#000" stroke-width="4.2" fill="none"/>
<circle cx="1940.3" cy="344.4" r="3.9" fill="#800080"/>
<circle cx="1940.3" cy="377.1" r="3.9" fill="#800080"/>
<circle cx="1940.3" cy="386.1" r="3.9" fill="#800080"/>
<rect x="1398.7" y="54.3" width="570.2" height="380.1" fill="none" stroke="#000" stroke-width="5.4"/>
<rect x="1383" y="431.7" width="14" height="5.4" fill="#000"/>
<text transform="translate(1342.52,444.32) scale(0.9838,1)" font-size="26.85" stroke-width="0.45">0.0</text>
<rect x="1383" y="336.8" width="14" height="5.4" fill="#000"/>
<text transform="translate(1342.11,349.42) scale(0.9840,1)" font-size="26.85" stroke-width="0.45">0.5</text>
<rect x="1383" y="241.9" width="14" height="5.4" fill="#000"/>
<text transform="translate(1342.52,254.52) scale(0.9836,1)" font-size="26.85" stroke-width="0.45">1.0</text>
<rect x="1383" y="147.0" width="14" height="5.4" fill="#000"/>
<text transform="translate(1342.12,159.62) scale(0.9838,1)" font-size="26.85" stroke-width="0.45">1.5</text>
<rect x="1383" y="51.6" width="14" height="5.4" fill="#000"/>
<text transform="translate(1342.51,63.72) scale(0.9839,1)" font-size="26.85" stroke-width="0.45">2.0</text>
<rect x="1467.0" y="434.4" width="5.2" height="15.3" fill="#000"/>
<text transform="translate(1401.22,473.07) scale(1.0198,1)" font-size="21.23" stroke-width="0.45">MCF-7 BCCM</text>
<rect x="1609.4" y="434.4" width="5.2" height="15.3" fill="#000"/>
<text transform="translate(1542.74,473.07) scale(1.0036,1)" font-size="21.23" stroke-width="0.45">MDA-MB-231</text>
<rect x="1752.0" y="434.4" width="5.2" height="15.3" fill="#000"/>
<text transform="translate(1683.01,473.07) scale(1.0281,1)" font-size="21.23" stroke-width="0.45">BT-474 BCCM</text>
<rect x="1894.7" y="434.4" width="5.2" height="15.3" fill="#000"/>
<text transform="translate(1873.33,473.07) scale(1.0140,1)" font-size="21.23" stroke-width="0.45">Bare</text>
<text transform="translate(1579.61,498.27) scale(1.0217,1)" font-size="21.23" stroke-width="0.45">BCCM</text>
<text transform="translate(1324.0,401.77) rotate(-90) scale(0.9292,1)" font-size="40.87" stroke-width="0.5">Peak current (<tspan class="sym" font-size="49.04">μ</tspan>A)</text>
<circle cx="1477.8" cy="82.5" r="3.9" fill="#0a8197"/>
<circle cx="1478" cy="126.2" r="3.9" fill="#98c6fb"/>
<circle cx="1678.6" cy="82.4" r="3.9" fill="#c89850"/>
<circle cx="1681" cy="126.1" r="3.9" fill="#800080"/>
<text transform="translate(1517.01,91.78) scale(0.9695,1)" font-size="27.17" stroke-width="0.45">MCF-7 EV</text>
<text transform="translate(1517.49,135.78) scale(0.9815,1)" font-size="27.17" stroke-width="0.45">BT-474 EV</text>
<text transform="translate(1718.02,91.78) scale(0.9674,1)" font-size="27.17" stroke-width="0.45">MDA-MB-231 EV</text>
<text transform="translate(1720.41,135.78) scale(0.9734,1)" font-size="27.17" stroke-width="0.45">MCF-10A EV</text>
<text transform="translate(1261.89,42.50) scale(1.0188,1)" font-size="67.09" stroke-width="0.45">c</text>
</g><g id="panel-d">
<rect x="203.4" y="582.5" width="5.4" height="234" fill="#000"/>
<rect x="205" y="581.5" width="589.2" height="229.5" fill="#fcf2ee"/>
<rect x="794.2" y="581.5" width="587.7" height="229.5" fill="#f7f8ec"/>
<rect x="1381.9" y="581.5" width="597.6" height="229.5" fill="#f3f6fb"/>
<circle cx="215.9" cy="613.9" r="5.45" fill="#836298"/><circle cx="235.5" cy="613.9" r="5.45" fill="#836298"/><circle cx="255.1" cy="613.9" r="5.45" fill="#836298"/><circle cx="274.7" cy="613.9" r="5.45" fill="#836298"/><circle cx="294.3" cy="613.9" r="5.9" fill="#83689d"/><circle cx="313.9" cy="613.9" r="4.5" fill="#82588e"/><circle cx="333.5" cy="613.9" r="4.95" fill="#835d92"/><circle cx="353.1" cy="613.9" r="4.95" fill="#835d92"/><circle cx="372.7" cy="613.9" r="5.45" fill="#836298"/><circle cx="392.3" cy="613.9" r="5.45" fill="#836298"/><circle cx="411.9" cy="613.9" r="5.9" fill="#83689d"/><circle cx="431.5" cy="613.9" r="5.9" fill="#83689d"/><circle cx="451.1" cy="613.9" r="4.95" fill="#835d92"/><circle cx="470.7" cy="613.9" r="5.45" fill="#836298"/><circle cx="490.3" cy="613.9" r="5.9" fill="#83689d"/><circle cx="509.9" cy="613.9" r="4.95" fill="#835d92"/><circle cx="529.5" cy="613.9" r="6.35" fill="#826ea1"/><circle cx="549.1" cy="613.9" r="5.9" fill="#83689d"/><circle cx="568.7" cy="613.9" r="4.5" fill="#82588e"/><circle cx="588.3" cy="613.9" r="5.45" fill="#836298"/><circle cx="607.9" cy="613.9" r="4.95" fill="#835d92"/><circle cx="627.5" cy="613.9" r="4.5" fill="#82588e"/><circle cx="647.1" cy="613.9" r="4.95" fill="#835d92"/><circle cx="666.7" cy="613.9" r="4.95" fill="#835d92"/><circle cx="686.3" cy="613.9" r="4.15" fill="#81548a"/><circle cx="705.9" cy="613.9" r="4.15" fill="#81548a"/><circle cx="725.5" cy="613.9" r="4.95" fill="#835d92"/><circle cx="745.1" cy="613.9" r="4.5" fill="#82588e"/><circle cx="764.7" cy="613.9" r="3.8" fill="#815187"/><circle cx="784.3" cy="613.9" r="4.5" fill="#82588e"/><circle cx="803.9" cy="613.9" r="5.9" fill="#826a9c"/><circle cx="823.5" cy="613.9" r="4.5" fill="#805a8d"/><circle cx="843.1" cy="613.9" r="5.45" fill="#816497"/><circle cx="862.7" cy="613.9" r="4.5" fill="#805a8d"/><circle cx="882.3" cy="613.9" r="5.9" fill="#826a9c"/><circle cx="901.9" cy="613.9" r="4.95" fill="#815f92"/><circle cx="921.5" cy="613.9" r="5.45" fill="#816497"/><circle cx="941.1" cy="613.9" r="5.9" fill="#826a9c"/><circle cx="960.7" cy="613.9" r="6.35" fill="#8170a0"/><circle cx="980.3" cy="613.9" r="5.45" fill="#816497"/><circle cx="999.9" cy="613.9" r="5.45" fill="#816497"/><circle cx="1019.5" cy="613.9" r="5.45" fill="#816497"/><circle cx="1039.1" cy="613.9" r="4.15" fill="#80568a"/><circle cx="1058.7" cy="613.9" r="5.45" fill="#816497"/><circle cx="1078.3" cy="613.9" r="5.45" fill="#816497"/><circle cx="1097.9" cy="613.9" r="5.45" fill="#816497"/><circle cx="1117.5" cy="613.9" r="5.45" fill="#816497"/><circle cx="1137.1" cy="613.9" r="5.45" fill="#816497"/><circle cx="1156.7" cy="613.9" r="4.95" fill="#815f92"/><circle cx="1176.3" cy="613.9" r="6.35" fill="#8170a0"/><circle cx="1195.9" cy="613.9" r="4.15" fill="#80568a"/><circle cx="1215.5" cy="613.9" r="4.15" fill="#80568a"/><circle cx="1235.1" cy="613.9" r="5.9" fill="#826a9c"/><circle cx="1254.7" cy="613.9" r="4.95" fill="#815f92"/><circle cx="1274.3" cy="613.9" r="4.15" fill="#80568a"/><circle cx="1293.9" cy="613.9" r="4.5" fill="#805a8d"/><circle cx="1313.5" cy="613.9" r="4.15" fill="#80568a"/><circle cx="1333.1" cy="613.9" r="5.45" fill="#816497"/><circle cx="1352.7" cy="613.9" r="4.95" fill="#815f92"/><circle cx="1372.3" cy="613.9" r="5.45" fill="#816497"/><circle cx="1391.9" cy="613.9" r="5.45" fill="#80649c"/><circle cx="1411.5" cy="613.9" r="5.9" fill="#8069a1"/><circle cx="1431.1" cy="613.9" r="4.95" fill="#805e96"/><circle cx="1450.7" cy="613.9" r="4.95" fill="#805e96"/><circle cx="1470.3" cy="613.9" r="6.35" fill="#7f70a5"/><circle cx="1489.9" cy="613.9" r="5.45" fill="#80649c"/><circle cx="1509.5" cy="613.9" r="5.45" fill="#80649c"/><circle cx="1529.1" cy="613.9" r="4.5" fill="#7f5992"/><circle cx="1548.7" cy="613.9" r="4.5" fill="#7f5992"/><circle cx="1568.3" cy="613.9" r="5.45" fill="#80649c"/><circle cx="1587.9" cy="613.9" r="5.9" fill="#8069a1"/><circle cx="1607.5" cy="613.9" r="5.45" fill="#80649c"/><circle cx="1627.1" cy="613.9" r="4.15" fill="#7e558f"/><circle cx="1646.7" cy="613.9" r="5.45" fill="#80649c"/><circle cx="1666.3" cy="613.9" r="4.5" fill="#7f5992"/><circle cx="1685.9" cy="613.9" r="5.45" fill="#80649c"/><circle cx="1705.5" cy="613.9" r="5.45" fill="#80649c"/><circle cx="1725.1" cy="613.9" r="5.45" fill="#80649c"/><circle cx="1744.7" cy="613.9" r="5.45" fill="#80649c"/><circle cx="1764.3" cy="613.9" r="5.45" fill="#80649c"/><circle cx="1783.9" cy="613.9" r="4.95" fill="#805e96"/><circle cx="1803.5" cy="613.9" r="4.15" fill="#7e558f"/><circle cx="1823.1" cy="613.9" r="5.9" fill="#8069a1"/><circle cx="1842.7" cy="613.9" r="5.45" fill="#80649c"/><circle cx="1862.3" cy="613.9" r="4.95" fill="#805e96"/><circle cx="1881.9" cy="613.9" r="4.95" fill="#805e96"/><circle cx="1901.5" cy="613.9" r="3.8" fill="#7e528b"/><circle cx="1921.1" cy="613.9" r="4.95" fill="#805e96"/><circle cx="1940.7" cy="613.9" r="4.95" fill="#805e96"/><circle cx="1960.3" cy="613.9" r="4.95" fill="#805e96"/><circle cx="215.9" cy="670.9" r="5.45" fill="#836298"/><circle cx="235.5" cy="670.9" r="5.45" fill="#836298"/><circle cx="255.1" cy="670.9" r="6.35" fill="#826ea1"/><circle cx="274.7" cy="670.9" r="5.45" fill="#836298"/><circle cx="294.3" cy="670.9" r="4.95" fill="#835d92"/><circle cx="313.9" cy="670.9" r="4.95" fill="#835d92"/><circle cx="333.5" cy="670.9" r="5.9" fill="#83689d"/><circle cx="353.1" cy="670.9" r="5.9" fill="#83689d"/><circle cx="372.7" cy="670.9" r="5.45" fill="#836298"/><circle cx="392.3" cy="670.9" r="5.45" fill="#836298"/><circle cx="411.9" cy="670.9" r="5.9" fill="#83689d"/><circle cx="431.5" cy="670.9" r="4.95" fill="#835d92"/><circle cx="451.1" cy="670.9" r="4.95" fill="#835d92"/><circle cx="470.7" cy="670.9" r="5.9" fill="#83689d"/><circle cx="490.3" cy="670.9" r="5.45" fill="#836298"/><circle cx="509.9" cy="670.9" r="5.45" fill="#836298"/><circle cx="529.5" cy="670.9" r="5.9" fill="#83689d"/><circle cx="549.1" cy="670.9" r="5.9" fill="#83689d"/><circle cx="568.7" cy="670.9" r="4.5" fill="#82588e"/><circle cx="588.3" cy="670.9" r="6.35" fill="#826ea1"/><circle cx="607.9" cy="670.9" r="5.45" fill="#836298"/><circle cx="627.5" cy="670.9" r="4.5" fill="#82588e"/><circle cx="647.1" cy="670.9" r="4.95" fill="#835d92"/><circle cx="666.7" cy="670.9" r="5.45" fill="#836298"/><circle cx="686.3" cy="670.9" r="4.5" fill="#82588e"/><circle cx="705.9" cy="670.9" r="4.95" fill="#835d92"/><circle cx="725.5" cy="670.9" r="5.45" fill="#836298"/><circle cx="745.1" cy="670.9" r="4.5" fill="#82588e"/><circle cx="764.7" cy="670.9" r="4.95" fill="#835d92"/><circle cx="784.3" cy="670.9" r="4.95" fill="#835d92"/><circle cx="803.9" cy="670.9" r="5.45" fill="#816497"/><circle cx="823.5" cy="670.9" r="6.35" fill="#8170a0"/><circle cx="843.1" cy="670.9" r="6.35" fill="#8170a0"/><circle cx="862.7" cy="670.9" r="4.5" fill="#805a8d"/><circle cx="882.3" cy="670.9" r="4.5" fill="#805a8d"/><circle cx="901.9" cy="670.9" r="6.35" fill="#8170a0"/><circle cx="921.5" cy="670.9" r="5.45" fill="#816497"/><circle cx="941.1" cy="670.9" r="6.35" fill="#8170a0"/><circle cx="960.7" cy="670.9" r="5.45" fill="#816497"/><circle cx="980.3" cy="670.9" r="4.5" fill="#805a8d"/><circle cx="999.9" cy="670.9" r="5.9" fill="#826a9c"/><circle cx="1019.5" cy="670.9" r="5.45" fill="#816497"/><circle cx="1039.1" cy="670.9" r="5.45" fill="#816497"/><circle cx="1058.7" cy="670.9" r="4.15" fill="#80568a"/><circle cx="1078.3" cy="670.9" r="5.9" fill="#826a9c"/><circle cx="1097.9" cy="670.9" r="5.45" fill="#816497"/><circle cx="1117.5" cy="670.9" r="5.45" fill="#816497"/><circle cx="1137.1" cy="670.9" r="4.5" fill="#805a8d"/><circle cx="1156.7" cy="670.9" r="4.95" fill="#815f92"/><circle cx="1176.3" cy="670.9" r="5.9" fill="#826a9c"/><circle cx="1195.9" cy="670.9" r="4.5" fill="#805a8d"/><circle cx="1215.5" cy="670.9" r="6.35" fill="#8170a0"/><circle cx="1235.1" cy="670.9" r="5.9" fill="#826a9c"/><circle cx="1254.7" cy="670.9" r="5.9" fill="#826a9c"/><circle cx="1274.3" cy="670.9" r="3.8" fill="#7f5386"/><circle cx="1293.9" cy="670.9" r="4.5" fill="#805a8d"/><circle cx="1313.5" cy="670.9" r="5.45" fill="#816497"/><circle cx="1333.1" cy="670.9" r="4.95" fill="#815f92"/><circle cx="1352.7" cy="670.9" r="4.95" fill="#815f92"/><circle cx="1372.3" cy="670.9" r="4.95" fill="#815f92"/><circle cx="1391.9" cy="670.9" r="8.55" fill="#5aaaac"/><circle cx="1411.5" cy="670.9" r="8.55" fill="#5aaaac"/><circle cx="1431.1" cy="670.9" r="8.55" fill="#5aaaac"/><circle cx="1450.7" cy="670.9" r="8.2" fill="#5ba0ac"/><circle cx="1470.3" cy="670.9" r="8.85" fill="#58b8a8"/><circle cx="1489.9" cy="670.9" r="8.55" fill="#5aaaac"/><circle cx="1509.5" cy="670.9" r="8.55" fill="#5aaaac"/><circle cx="1529.1" cy="670.9" r="9.1" fill="#5fc0a4"/><circle cx="1548.7" cy="670.9" r="8.2" fill="#5ba0ac"/><circle cx="1568.3" cy="670.9" r="7.9" fill="#5c9cae"/><circle cx="1587.9" cy="670.9" r="8.55" fill="#5aaaac"/><circle cx="1607.5" cy="670.9" r="8.2" fill="#5ba0ac"/><circle cx="1627.1" cy="670.9" r="8.85" fill="#58b8a8"/><circle cx="1646.7" cy="670.9" r="8.2" fill="#5ba0ac"/><circle cx="1666.3" cy="670.9" r="8.2" fill="#5ba0ac"/><circle cx="1685.9" cy="670.9" r="8.85" fill="#58b8a8"/><circle cx="1705.5" cy="670.9" r="8.2" fill="#5ba0ac"/><circle cx="1725.1" cy="670.9" r="8.55" fill="#5aaaac"/><circle cx="1744.7" cy="670.9" r="8.55" fill="#5aaaac"/><circle cx="1764.3" cy="670.9" r="9.1" fill="#5fc0a4"/><circle cx="1783.9" cy="670.9" r="8.55" fill="#5aaaac"/><circle cx="1803.5" cy="670.9" r="9.1" fill="#5fc0a4"/><circle cx="1823.1" cy="670.9" r="9.45" fill="#6cc89c"/><circle cx="1842.7" cy="670.9" r="9.1" fill="#5fc0a4"/><circle cx="1862.3" cy="670.9" r="8.85" fill="#58b8a8"/><circle cx="1881.9" cy="670.9" r="8.85" fill="#58b8a8"/><circle cx="1901.5" cy="670.9" r="10.7" fill="#c6e268"/><circle cx="1921.1" cy="670.9" r="9.9" fill="#8cd48c"/><circle cx="1940.7" cy="670.9" r="9.1" fill="#5fc0a4"/><circle cx="1960.3" cy="670.9" r="9.1" fill="#5fc0a4"/><circle cx="215.9" cy="727.8" r="5.45" fill="#836298"/><circle cx="235.5" cy="727.8" r="5.45" fill="#836298"/><circle cx="255.1" cy="727.8" r="5.45" fill="#836298"/><circle cx="274.7" cy="727.8" r="4.95" fill="#835d92"/><circle cx="294.3" cy="727.8" r="6.35" fill="#826ea1"/><circle cx="313.9" cy="727.8" r="4.95" fill="#835d92"/><circle cx="333.5" cy="727.8" r="4.95" fill="#835d92"/><circle cx="353.1" cy="727.8" r="5.45" fill="#836298"/><circle cx="372.7" cy="727.8" r="5.45" fill="#836298"/><circle cx="392.3" cy="727.8" r="5.45" fill="#836298"/><circle cx="411.9" cy="727.8" r="4.5" fill="#82588e"/><circle cx="431.5" cy="727.8" r="5.45" fill="#836298"/><circle cx="451.1" cy="727.8" r="5.45" fill="#836298"/><circle cx="470.7" cy="727.8" r="4.15" fill="#81548a"/><circle cx="490.3" cy="727.8" r="4.95" fill="#835d92"/><circle cx="509.9" cy="727.8" r="4.15" fill="#81548a"/><circle cx="529.5" cy="727.8" r="5.45" fill="#836298"/><circle cx="549.1" cy="727.8" r="5.45" fill="#836298"/><circle cx="568.7" cy="727.8" r="5.9" fill="#83689d"/><circle cx="588.3" cy="727.8" r="5.9" fill="#83689d"/><circle cx="607.9" cy="727.8" r="5.45" fill="#836298"/><circle cx="627.5" cy="727.8" r="4.5" fill="#82588e"/><circle cx="647.1" cy="727.8" r="4.15" fill="#81548a"/><circle cx="666.7" cy="727.8" r="5.9" fill="#83689d"/><circle cx="686.3" cy="727.8" r="4.95" fill="#835d92"/><circle cx="705.9" cy="727.8" r="5.45" fill="#836298"/><circle cx="725.5" cy="727.8" r="5.45" fill="#836298"/><circle cx="745.1" cy="727.8" r="5.45" fill="#836298"/><circle cx="764.7" cy="727.8" r="4.95" fill="#835d92"/><circle cx="784.3" cy="727.8" r="4.95" fill="#835d92"/><circle cx="803.9" cy="727.8" r="9.1" fill="#60be94"/><circle cx="823.5" cy="727.8" r="8.2" fill="#5f9c9e"/><circle cx="843.1" cy="727.8" r="8.85" fill="#5ab49c"/><circle cx="862.7" cy="727.8" r="8.85" fill="#5ab49c"/><circle cx="882.3" cy="727.8" r="8.85" fill="#5ab49c"/><circle cx="901.9" cy="727.8" r="8.2" fill="#5f9c9e"/><circle cx="921.5" cy="727.8" r="8.55" fill="#5ca89e"/><circle cx="941.1" cy="727.8" r="9.1" fill="#60be94"/><circle cx="960.7" cy="727.8" r="8.85" fill="#5ab49c"/><circle cx="980.3" cy="727.8" r="8.2" fill="#5f9c9e"/><circle cx="999.9" cy="727.8" r="9.1" fill="#60be94"/><circle cx="1019.5" cy="727.8" r="8.85" fill="#5ab49c"/><circle cx="1039.1" cy="727.8" r="7.9" fill="#62949e"/><circle cx="1058.7" cy="727.8" r="9.45" fill="#66c592"/><circle cx="1078.3" cy="727.8" r="9.1" fill="#60be94"/><circle cx="1097.9" cy="727.8" r="8.55" fill="#5ca89e"/><circle cx="1117.5" cy="727.8" r="8.55" fill="#5ca89e"/><circle cx="1137.1" cy="727.8" r="9.45" fill="#66c592"/><circle cx="1156.7" cy="727.8" r="8.2" fill="#5f9c9e"/><circle cx="1176.3" cy="727.8" r="9.45" fill="#66c592"/><circle cx="1195.9" cy="727.8" r="8.55" fill="#5ca89e"/><circle cx="1215.5" cy="727.8" r="10.7" fill="#c4e058"/><circle cx="1235.1" cy="727.8" r="9.45" fill="#66c592"/><circle cx="1254.7" cy="727.8" r="9.45" fill="#66c592"/><circle cx="1274.3" cy="727.8" r="9.45" fill="#66c592"/><circle cx="1293.9" cy="727.8" r="8.2" fill="#5f9c9e"/><circle cx="1313.5" cy="727.8" r="8.85" fill="#5ab49c"/><circle cx="1333.1" cy="727.8" r="10.3" fill="#acdb66"/><circle cx="1352.7" cy="727.8" r="8.85" fill="#5ab49c"/><circle cx="1372.3" cy="727.8" r="10.7" fill="#c4e058"/><circle cx="1391.9" cy="727.8" r="5.45" fill="#80649c"/><circle cx="1411.5" cy="727.8" r="5.45" fill="#80649c"/><circle cx="1431.1" cy="727.8" r="5.9" fill="#8069a1"/><circle cx="1450.7" cy="727.8" r="4.5" fill="#7f5992"/><circle cx="1470.3" cy="727.8" r="4.5" fill="#7f5992"/><circle cx="1489.9" cy="727.8" r="5.45" fill="#80649c"/><circle cx="1509.5" cy="727.8" r="4.95" fill="#805e96"/><circle cx="1529.1" cy="727.8" r="5.9" fill="#8069a1"/><circle cx="1548.7" cy="727.8" r="4.95" fill="#805e96"/><circle cx="1568.3" cy="727.8" r="5.45" fill="#80649c"/><circle cx="1587.9" cy="727.8" r="6.35" fill="#7f70a5"/><circle cx="1607.5" cy="727.8" r="5.9" fill="#8069a1"/><circle cx="1627.1" cy="727.8" r="5.45" fill="#80649c"/><circle cx="1646.7" cy="727.8" r="5.45" fill="#80649c"/><circle cx="1666.3" cy="727.8" r="5.45" fill="#80649c"/><circle cx="1685.9" cy="727.8" r="4.95" fill="#805e96"/><circle cx="1705.5" cy="727.8" r="5.45" fill="#80649c"/><circle cx="1725.1" cy="727.8" r="4.5" fill="#7f5992"/><circle cx="1744.7" cy="727.8" r="5.45" fill="#80649c"/><circle cx="1764.3" cy="727.8" r="4.5" fill="#7f5992"/><circle cx="1783.9" cy="727.8" r="5.9" fill="#8069a1"/><circle cx="1803.5" cy="727.8" r="5.9" fill="#8069a1"/><circle cx="1823.1" cy="727.8" r="6.35" fill="#7f70a5"/><circle cx="1842.7" cy="727.8" r="6.35" fill="#7f70a5"/><circle cx="1862.3" cy="727.8" r="5.45" fill="#80649c"/><circle cx="1881.9" cy="727.8" r="5.9" fill="#8069a1"/><circle cx="1901.5" cy="727.8" r="4.95" fill="#805e96"/><circle cx="1921.1" cy="727.8" r="4.95" fill="#805e96"/><circle cx="1940.7" cy="727.8" r="5.45" fill="#80649c"/><circle cx="1960.3" cy="727.8" r="5.45" fill="#80649c"/><circle cx="215.9" cy="784.7" r="8.55" fill="#5fa89c"/><circle cx="235.5" cy="784.7" r="8.2" fill="#63969f"/><circle cx="255.1" cy="784.7" r="9.1" fill="#66b794"/><circle cx="274.7" cy="784.7" r="8.55" fill="#5fa89c"/><circle cx="294.3" cy="784.7" r="9.1" fill="#66b794"/><circle cx="313.9" cy="784.7" r="8.55" fill="#5fa89c"/><circle cx="333.5" cy="784.7" r="7.9" fill="#6790a0"/><circle cx="353.1" cy="784.7" r="8.55" fill="#5fa89c"/><circle cx="372.7" cy="784.7" r="9.1" fill="#66b794"/><circle cx="392.3" cy="784.7" r="8.55" fill="#5fa89c"/><circle cx="411.9" cy="784.7" r="8.85" fill="#61b098"/><circle cx="431.5" cy="784.7" r="8.55" fill="#5fa89c"/><circle cx="451.1" cy="784.7" r="8.55" fill="#5fa89c"/><circle cx="470.7" cy="784.7" r="8.85" fill="#61b098"/><circle cx="490.3" cy="784.7" r="9.1" fill="#66b794"/><circle cx="509.9" cy="784.7" r="8.2" fill="#63969f"/><circle cx="529.5" cy="784.7" r="9.1" fill="#66b794"/><circle cx="549.1" cy="784.7" r="8.55" fill="#5fa89c"/><circle cx="568.7" cy="784.7" r="8.2" fill="#63969f"/><circle cx="588.3" cy="784.7" r="8.85" fill="#61b098"/><circle cx="607.9" cy="784.7" r="8.55" fill="#5fa89c"/><circle cx="627.5" cy="784.7" r="10.3" fill="#acd46a"/><circle cx="647.1" cy="784.7" r="8.2" fill="#63969f"/><circle cx="666.7" cy="784.7" r="8.85" fill="#61b098"/><circle cx="686.3" cy="784.7" r="7.9" fill="#6790a0"/><circle cx="705.9" cy="784.7" r="9.1" fill="#66b794"/><circle cx="725.5" cy="784.7" r="8.85" fill="#61b098"/><circle cx="745.1" cy="784.7" r="9.9" fill="#8dcc80"/><circle cx="764.7" cy="784.7" r="8.2" fill="#63969f"/><circle cx="784.3" cy="784.7" r="8.85" fill="#61b098"/><circle cx="803.9" cy="784.7" r="5.45" fill="#816497"/><circle cx="823.5" cy="784.7" r="4.95" fill="#815f92"/><circle cx="843.1" cy="784.7" r="4.95" fill="#815f92"/><circle cx="862.7" cy="784.7" r="4.15" fill="#80568a"/><circle cx="882.3" cy="784.7" r="5.9" fill="#826a9c"/><circle cx="901.9" cy="784.7" r="6.35" fill="#8170a0"/><circle cx="921.5" cy="784.7" r="6.35" fill="#8170a0"/><circle cx="941.1" cy="784.7" r="5.45" fill="#816497"/><circle cx="960.7" cy="784.7" r="5.45" fill="#816497"/><circle cx="980.3" cy="784.7" r="5.9" fill="#826a9c"/><circle cx="999.9" cy="784.7" r="6.35" fill="#8170a0"/><circle cx="1019.5" cy="784.7" r="5.45" fill="#816497"/><circle cx="1039.1" cy="784.7" r="4.15" fill="#80568a"/><circle cx="1058.7" cy="784.7" r="5.9" fill="#826a9c"/><circle cx="1078.3" cy="784.7" r="6.35" fill="#8170a0"/><circle cx="1097.9" cy="784.7" r="5.45" fill="#816497"/><circle cx="1117.5" cy="784.7" r="6.35" fill="#8170a0"/><circle cx="1137.1" cy="784.7" r="5.45" fill="#816497"/><circle cx="1156.7" cy="784.7" r="5.9" fill="#826a9c"/><circle cx="1176.3" cy="784.7" r="6.35" fill="#8170a0"/><circle cx="1195.9" cy="784.7" r="4.95" fill="#815f92"/><circle cx="1215.5" cy="784.7" r="4.95" fill="#815f92"/><circle cx="1235.1" cy="784.7" r="5.9" fill="#826a9c"/><circle cx="1254.7" cy="784.7" r="5.45" fill="#816497"/><circle cx="1274.3" cy="784.7" r="4.5" fill="#805a8d"/><circle cx="1293.9" cy="784.7" r="4.95" fill="#815f92"/><circle cx="1313.5" cy="784.7" r="4.15" fill="#80568a"/><circle cx="1333.1" cy="784.7" r="4.95" fill="#815f92"/><circle cx="1352.7" cy="784.7" r="5.45" fill="#816497"/><circle cx="1372.3" cy="784.7" r="5.45" fill="#816497"/><circle cx="1391.9" cy="784.7" r="5.9" fill="#8069a1"/><circle cx="1411.5" cy="784.7" r="4.5" fill="#7f5992"/><circle cx="1431.1" cy="784.7" r="5.9" fill="#8069a1"/><circle cx="1450.7" cy="784.7" r="5.45" fill="#80649c"/><circle cx="1470.3" cy="784.7" r="5.9" fill="#8069a1"/><circle cx="1489.9" cy="784.7" r="5.45" fill="#80649c"/><circle cx="1509.5" cy="784.7" r="4.15" fill="#7e558f"/><circle cx="1529.1" cy="784.7" r="5.9" fill="#8069a1"/><circle cx="1548.7" cy="784.7" r="5.45" fill="#80649c"/><circle cx="1568.3" cy="784.7" r="4.15" fill="#7e558f"/><circle cx="1587.9" cy="784.7" r="4.95" fill="#805e96"/><circle cx="1607.5" cy="784.7" r="5.45" fill="#80649c"/><circle cx="1627.1" cy="784.7" r="4.95" fill="#805e96"/><circle cx="1646.7" cy="784.7" r="5.45" fill="#80649c"/><circle cx="1666.3" cy="784.7" r="4.95" fill="#805e96"/><circle cx="1685.9" cy="784.7" r="4.95" fill="#805e96"/><circle cx="1705.5" cy="784.7" r="5.45" fill="#80649c"/><circle cx="1725.1" cy="784.7" r="5.45" fill="#80649c"/><circle cx="1744.7" cy="784.7" r="5.9" fill="#8069a1"/><circle cx="1764.3" cy="784.7" r="4.95" fill="#805e96"/><circle cx="1783.9" cy="784.7" r="5.9" fill="#8069a1"/><circle cx="1803.5" cy="784.7" r="5.45" fill="#80649c"/><circle cx="1823.1" cy="784.7" r="5.45" fill="#80649c"/><circle cx="1842.7" cy="784.7" r="4.15" fill="#7e558f"/><circle cx="1862.3" cy="784.7" r="6.35" fill="#7f70a5"/><circle cx="1881.9" cy="784.7" r="4.95" fill="#805e96"/><circle cx="1901.5" cy="784.7" r="6.35" fill="#7f70a5"/><circle cx="1921.1" cy="784.7" r="5.45" fill="#80649c"/><circle cx="1940.7" cy="784.7" r="4.95" fill="#805e96"/><circle cx="1960.3" cy="784.7" r="5.9" fill="#8069a1"/>
<rect x="205.1" y="582.5" width="3.7" height="228.5" fill="#4a3f3b"/>
<rect x="203.4" y="810.8" width="1777" height="5.2" fill="#000"/>
<rect x="196.1" y="611.0" width="7.5" height="5.6" fill="#000"/>
<text transform="translate(124.05,620.38) scale(1.0138,1)" font-size="28.48" stroke-width="0.45">Bare</text>
<rect x="196.1" y="668.0" width="7.5" height="5.6" fill="#000"/>
<text transform="translate(94.07,681.77) scale(0.9788,1)" font-size="29.20" stroke-width="0.45">BT-474</text>
<rect x="196.1" y="724.9" width="7.5" height="5.6" fill="#000"/>
<text transform="translate(10.98,737.57) scale(0.9715,1)" font-size="29.20" stroke-width="0.45">MDA-MB-231</text>
<rect x="196.1" y="781.8" width="7.5" height="5.6" fill="#000"/>
<text transform="translate(102.26,793.98) scale(0.9693,1)" font-size="29.64" stroke-width="0.45">MCF-7</text>
<text transform="translate(222.00,834.3) scale(1.11,1) rotate(-74.2) scale(0.97,1)" x="1.4" letter-spacing="1.4" font-size="15.3" text-anchor="end" stroke="#231815" stroke-width="0.7">1</text><text transform="translate(241.60,834.3) scale(1.11,1) rotate(-74.2) scale(0.97,1)" x="1.4" letter-spacing="1.4" font-size="15.3" text-anchor="end" stroke="#231815" stroke-width="0.7">2</text><text transform="translate(261.20,834.3) scale(1.11,1) rotate(-74.2) scale(0.97,1)" x="1.4" letter-spacing="1.4" font-size="15.3" text-anchor="end" stroke="#231815" stroke-width="0.7">3</text><text transform="translate(280.80,834.3) scale(1.11,1) rotate(-74.2) scale(0.97,1)" x="1.4" letter-spacing="1.4" font-size="15.3" text-anchor="end" stroke="#231815" stroke-width="0.7">4</text><text transform="translate(300.40,834.3) scale(1.11,1) rotate(-74.2) scale(0.97,1)" x="1.4" letter-spacing="1.4" font-size="15.3" text-anchor="end" stroke="#231815" stroke-width="0.7">5</text><text transform="translate(320.00,834.3) scale(1.11,1) rotate(-74.2) scale(0.97,1)" x="1.4" letter-spacing="1.4" font-size="15.3" text-anchor="end" stroke="#231815" stroke-width="0.7">6</text><text transform="translate(339.60,834.3) scale(1.11,1) rotate(-74.2) scale(0.97,1)" x="1.4" letter-spacing="1.4" font-size="15.3" text-anchor="end" stroke="#231815" stroke-width="0.7">7</text><text transform="translate(359.20,834.3) scale(1.11,1) rotate(-74.2) scale(0.97,1)" x="1.4" letter-spacing="1.4" font-size="15.3" text-anchor="end" stroke="#231815" stroke-width="0.7">8</text><text transform="translate(378.80,834.3) scale(1.11,1) rotate(-74.2) scale(0.97,1)" x="1.4" letter-spacing="1.4" font-size="15.3" text-anchor="end" stroke="#231815" stroke-width="0.7">9</text><text transform="translate(398.40,834.3) scale(1.11,1) rotate(-74.2) scale(0.97,1)" x="1.4" letter-spacing="1.4" font-size="15.3" text-anchor="end" stroke="#231815" stroke-width="0.7">10</text><text transform="translate(418.00,834.3) scale(1.11,1) rotate(-74.2) scale(0.97,1)" x="1.4" letter-spacing="1.4" font-size="15.3" text-anchor="end" stroke="#231815" stroke-width="0.7">11</text><text transform="translate(437.60,834.3) scale(1.11,1) rotate(-74.2) scale(0.97,1)" x="1.4" letter-spacing="1.4" font-size="15.3" text-anchor="end" stroke="#231815" stroke-width="0.7">12</text><text transform="translate(457.20,834.3) scale(1.11,1) rotate(-74.2) scale(0.97,1)" x="1.4" letter-spacing="1.4" font-size="15.3" text-anchor="end" stroke="#231815" stroke-width="0.7">13</text><text transform="translate(476.80,834.3) scale(1.11,1) rotate(-74.2) scale(0.97,1)" x="1.4" letter-spacing="1.4" font-size="15.3" text-anchor="end" stroke="#231815" stroke-width="0.7">14</text><text transform="translate(496.40,834.3) scale(1.11,1) rotate(-74.2) scale(0.97,1)" x="1.4" letter-spacing="1.4" font-size="15.3" text-anchor="end" stroke="#231815" stroke-width="0.7">15</text><text transform="translate(516.00,834.3) scale(1.11,1) rotate(-74.2) scale(0.97,1)" x="1.4" letter-spacing="1.4" font-size="15.3" text-anchor="end" stroke="#231815" stroke-width="0.7">16</text><text transform="translate(535.60,834.3) scale(1.11,1) rotate(-74.2) scale(0.97,1)" x="1.4" letter-spacing="1.4" font-size="15.3" text-anchor="end" stroke="#231815" stroke-width="0.7">17</text><text transform="translate(555.20,834.3) scale(1.11,1) rotate(-74.2) scale(0.97,1)" x="1.4" letter-spacing="1.4" font-size="15.3" text-anchor="end" stroke="#231815" stroke-width="0.7">18</text><text transform="translate(574.80,834.3) scale(1.11,1) rotate(-74.2) scale(0.97,1)" x="1.4" letter-spacing="1.4" font-size="15.3" text-anchor="end" stroke="#231815" stroke-width="0.7">19</text><text transform="translate(594.40,834.3) scale(1.11,1) rotate(-74.2) scale(0.97,1)" x="1.4" letter-spacing="1.4" font-size="15.3" text-anchor="end" stroke="#231815" stroke-width="0.7">20</text><text transform="translate(614.00,834.3) scale(1.11,1) rotate(-74.2) scale(0.97,1)" x="1.4" letter-spacing="1.4" font-size="15.3" text-anchor="end" stroke="#231815" stroke-width="0.7">21</text><text transform="translate(633.60,834.3) scale(1.11,1) rotate(-74.2) scale(0.97,1)" x="1.4" letter-spacing="1.4" font-size="15.3" text-anchor="end" stroke="#231815" stroke-width="0.7">22</text><text transform="translate(653.20,834.3) scale(1.11,1) rotate(-74.2) scale(0.97,1)" x="1.4" letter-spacing="1.4" font-size="15.3" text-anchor="end" stroke="#231815" stroke-width="0.7">23</text><text transform="translate(672.80,834.3) scale(1.11,1) rotate(-74.2) scale(0.97,1)" x="1.4" letter-spacing="1.4" font-size="15.3" text-anchor="end" stroke="#231815" stroke-width="0.7">24</text><text transform="translate(692.40,834.3) scale(1.11,1) rotate(-74.2) scale(0.97,1)" x="1.4" letter-spacing="1.4" font-size="15.3" text-anchor="end" stroke="#231815" stroke-width="0.7">25</text><text transform="translate(712.00,834.3) scale(1.11,1) rotate(-74.2) scale(0.97,1)" x="1.4" letter-spacing="1.4" font-size="15.3" text-anchor="end" stroke="#231815" stroke-width="0.7">26</text><text transform="translate(731.60,834.3) scale(1.11,1) rotate(-74.2) scale(0.97,1)" x="1.4" letter-spacing="1.4" font-size="15.3" text-anchor="end" stroke="#231815" stroke-width="0.7">27</text><text transform="translate(751.20,834.3) scale(1.11,1) rotate(-74.2) scale(0.97,1)" x="1.4" letter-spacing="1.4" font-size="15.3" text-anchor="end" stroke="#231815" stroke-width="0.7">28</text><text transform="translate(770.80,834.3) scale(1.11,1) rotate(-74.2) scale(0.97,1)" x="1.4" letter-spacing="1.4" font-size="15.3" text-anchor="end" stroke="#231815" stroke-width="0.7">29</text><text transform="translate(790.40,834.3) scale(1.11,1) rotate(-74.2) scale(0.97,1)" x="1.4" letter-spacing="1.4" font-size="15.3" text-anchor="end" stroke="#231815" stroke-width="0.7">30</text><text transform="translate(810.00,834.3) scale(1.11,1) rotate(-74.2) scale(0.97,1)" x="1.4" letter-spacing="1.4" font-size="15.3" text-anchor="end" stroke="#231815" stroke-width="0.7">31</text><text transform="translate(829.60,834.3) scale(1.11,1) rotate(-74.2) scale(0.97,1)" x="1.4" letter-spacing="1.4" font-size="15.3" text-anchor="end" stroke="#231815" stroke-width="0.7">32</text><text transform="translate(849.20,834.3) scale(1.11,1) rotate(-74.2) scale(0.97,1)" x="1.4" letter-spacing="1.4" font-size="15.3" text-anchor="end" stroke="#231815" stroke-width="0.7">33</text><text transform="translate(868.80,834.3) scale(1.11,1) rotate(-74.2) scale(0.97,1)" x="1.4" letter-spacing="1.4" font-size="15.3" text-anchor="end" stroke="#231815" stroke-width="0.7">34</text><text transform="translate(888.40,834.3) scale(1.11,1) rotate(-74.2) scale(0.97,1)" x="1.4" letter-spacing="1.4" font-size="15.3" text-anchor="end" stroke="#231815" stroke-width="0.7">35</text><text transform="translate(908.00,834.3) scale(1.11,1) rotate(-74.2) scale(0.97,1)" x="1.4" letter-spacing="1.4" font-size="15.3" text-anchor="end" stroke="#231815" stroke-width="0.7">36</text><text transform="translate(927.60,834.3) scale(1.11,1) rotate(-74.2) scale(0.97,1)" x="1.4" letter-spacing="1.4" font-size="15.3" text-anchor="end" stroke="#231815" stroke-width="0.7">37</text><text transform="translate(947.20,834.3) scale(1.11,1) rotate(-74.2) scale(0.97,1)" x="1.4" letter-spacing="1.4" font-size="15.3" text-anchor="end" stroke="#231815" stroke-width="0.7">38</text><text transform="translate(966.80,834.3) scale(1.11,1) rotate(-74.2) scale(0.97,1)" x="1.4" letter-spacing="1.4" font-size="15.3" text-anchor="end" stroke="#231815" stroke-width="0.7">39</text><text transform="translate(986.40,834.3) scale(1.11,1) rotate(-74.2) scale(0.97,1)" x="1.4" letter-spacing="1.4" font-size="15.3" text-anchor="end" stroke="#231815" stroke-width="0.7">40</text><text transform="translate(1006.00,834.3) scale(1.11,1) rotate(-74.2) scale(0.97,1)" x="1.4" letter-spacing="1.4" font-size="15.3" text-anchor="end" stroke="#231815" stroke-width="0.7">41</text><text transform="translate(1025.60,834.3) scale(1.11,1) rotate(-74.2) scale(0.97,1)" x="1.4" letter-spacing="1.4" font-size="15.3" text-anchor="end" stroke="#231815" stroke-width="0.7">42</text><text transform="translate(1045.20,834.3) scale(1.11,1) rotate(-74.2) scale(0.97,1)" x="1.4" letter-spacing="1.4" font-size="15.3" text-anchor="end" stroke="#231815" stroke-width="0.7">43</text><text transform="translate(1064.80,834.3) scale(1.11,1) rotate(-74.2) scale(0.97,1)" x="1.4" letter-spacing="1.4" font-size="15.3" text-anchor="end" stroke="#231815" stroke-width="0.7">44</text><text transform="translate(1084.40,834.3) scale(1.11,1) rotate(-74.2) scale(0.97,1)" x="1.4" letter-spacing="1.4" font-size="15.3" text-anchor="end" stroke="#231815" stroke-width="0.7">45</text><text transform="translate(1104.00,834.3) scale(1.11,1) rotate(-74.2) scale(0.97,1)" x="1.4" letter-spacing="1.4" font-size="15.3" text-anchor="end" stroke="#231815" stroke-width="0.7">46</text><text transform="translate(1123.60,834.3) scale(1.11,1) rotate(-74.2) scale(0.97,1)" x="1.4" letter-spacing="1.4" font-size="15.3" text-anchor="end" stroke="#231815" stroke-width="0.7">47</text><text transform="translate(1143.20,834.3) scale(1.11,1) rotate(-74.2) scale(0.97,1)" x="1.4" letter-spacing="1.4" font-size="15.3" text-anchor="end" stroke="#231815" stroke-width="0.7">48</text><text transform="translate(1162.80,834.3) scale(1.11,1) rotate(-74.2) scale(0.97,1)" x="1.4" letter-spacing="1.4" font-size="15.3" text-anchor="end" stroke="#231815" stroke-width="0.7">49</text><text transform="translate(1182.40,834.3) scale(1.11,1) rotate(-74.2) scale(0.97,1)" x="1.4" letter-spacing="1.4" font-size="15.3" text-anchor="end" stroke="#231815" stroke-width="0.7">50</text><text transform="translate(1202.00,834.3) scale(1.11,1) rotate(-74.2) scale(0.97,1)" x="1.4" letter-spacing="1.4" font-size="15.3" text-anchor="end" stroke="#231815" stroke-width="0.7">51</text><text transform="translate(1221.60,834.3) scale(1.11,1) rotate(-74.2) scale(0.97,1)" x="1.4" letter-spacing="1.4" font-size="15.3" text-anchor="end" stroke="#231815" stroke-width="0.7">52</text><text transform="translate(1241.20,834.3) scale(1.11,1) rotate(-74.2) scale(0.97,1)" x="1.4" letter-spacing="1.4" font-size="15.3" text-anchor="end" stroke="#231815" stroke-width="0.7">53</text><text transform="translate(1260.80,834.3) scale(1.11,1) rotate(-74.2) scale(0.97,1)" x="1.4" letter-spacing="1.4" font-size="15.3" text-anchor="end" stroke="#231815" stroke-width="0.7">54</text><text transform="translate(1280.40,834.3) scale(1.11,1) rotate(-74.2) scale(0.97,1)" x="1.4" letter-spacing="1.4" font-size="15.3" text-anchor="end" stroke="#231815" stroke-width="0.7">55</text><text transform="translate(1300.00,834.3) scale(1.11,1) rotate(-74.2) scale(0.97,1)" x="1.4" letter-spacing="1.4" font-size="15.3" text-anchor="end" stroke="#231815" stroke-width="0.7">56</text><text transform="translate(1319.60,834.3) scale(1.11,1) rotate(-74.2) scale(0.97,1)" x="1.4" letter-spacing="1.4" font-size="15.3" text-anchor="end" stroke="#231815" stroke-width="0.7">57</text><text transform="translate(1339.20,834.3) scale(1.11,1) rotate(-74.2) scale(0.97,1)" x="1.4" letter-spacing="1.4" font-size="15.3" text-anchor="end" stroke="#231815" stroke-width="0.7">58</text><text transform="translate(1358.80,834.3) scale(1.11,1) rotate(-74.2) scale(0.97,1)" x="1.4" letter-spacing="1.4" font-size="15.3" text-anchor="end" stroke="#231815" stroke-width="0.7">59</text><text transform="translate(1378.40,834.3) scale(1.11,1) rotate(-74.2) scale(0.97,1)" x="1.4" letter-spacing="1.4" font-size="15.3" text-anchor="end" stroke="#231815" stroke-width="0.7">60</text><text transform="translate(1398.00,834.3) scale(1.11,1) rotate(-74.2) scale(0.97,1)" x="1.4" letter-spacing="1.4" font-size="15.3" text-anchor="end" stroke="#231815" stroke-width="0.7">61</text><text transform="translate(1417.60,834.3) scale(1.11,1) rotate(-74.2) scale(0.97,1)" x="1.4" letter-spacing="1.4" font-size="15.3" text-anchor="end" stroke="#231815" stroke-width="0.7">62</text><text transform="translate(1437.20,834.3) scale(1.11,1) rotate(-74.2) scale(0.97,1)" x="1.4" letter-spacing="1.4" font-size="15.3" text-anchor="end" stroke="#231815" stroke-width="0.7">63</text><text transform="translate(1456.80,834.3) scale(1.11,1) rotate(-74.2) scale(0.97,1)" x="1.4" letter-spacing="1.4" font-size="15.3" text-anchor="end" stroke="#231815" stroke-width="0.7">64</text><text transform="translate(1476.40,834.3) scale(1.11,1) rotate(-74.2) scale(0.97,1)" x="1.4" letter-spacing="1.4" font-size="15.3" text-anchor="end" stroke="#231815" stroke-width="0.7">65</text><text transform="translate(1496.00,834.3) scale(1.11,1) rotate(-74.2) scale(0.97,1)" x="1.4" letter-spacing="1.4" font-size="15.3" text-anchor="end" stroke="#231815" stroke-width="0.7">66</text><text transform="translate(1515.60,834.3) scale(1.11,1) rotate(-74.2) scale(0.97,1)" x="1.4" letter-spacing="1.4" font-size="15.3" text-anchor="end" stroke="#231815" stroke-width="0.7">67</text><text transform="translate(1535.20,834.3) scale(1.11,1) rotate(-74.2) scale(0.97,1)" x="1.4" letter-spacing="1.4" font-size="15.3" text-anchor="end" stroke="#231815" stroke-width="0.7">68</text><text transform="translate(1554.80,834.3) scale(1.11,1) rotate(-74.2) scale(0.97,1)" x="1.4" letter-spacing="1.4" font-size="15.3" text-anchor="end" stroke="#231815" stroke-width="0.7">69</text><text transform="translate(1574.40,834.3) scale(1.11,1) rotate(-74.2) scale(0.97,1)" x="1.4" letter-spacing="1.4" font-size="15.3" text-anchor="end" stroke="#231815" stroke-width="0.7">70</text><text transform="translate(1594.00,834.3) scale(1.11,1) rotate(-74.2) scale(0.97,1)" x="1.4" letter-spacing="1.4" font-size="15.3" text-anchor="end" stroke="#231815" stroke-width="0.7">71</text><text transform="translate(1613.60,834.3) scale(1.11,1) rotate(-74.2) scale(0.97,1)" x="1.4" letter-spacing="1.4" font-size="15.3" text-anchor="end" stroke="#231815" stroke-width="0.7">72</text><text transform="translate(1633.20,834.3) scale(1.11,1) rotate(-74.2) scale(0.97,1)" x="1.4" letter-spacing="1.4" font-size="15.3" text-anchor="end" stroke="#231815" stroke-width="0.7">73</text><text transform="translate(1652.80,834.3) scale(1.11,1) rotate(-74.2) scale(0.97,1)" x="1.4" letter-spacing="1.4" font-size="15.3" text-anchor="end" stroke="#231815" stroke-width="0.7">74</text><text transform="translate(1672.40,834.3) scale(1.11,1) rotate(-74.2) scale(0.97,1)" x="1.4" letter-spacing="1.4" font-size="15.3" text-anchor="end" stroke="#231815" stroke-width="0.7">75</text><text transform="translate(1692.00,834.3) scale(1.11,1) rotate(-74.2) scale(0.97,1)" x="1.4" letter-spacing="1.4" font-size="15.3" text-anchor="end" stroke="#231815" stroke-width="0.7">76</text><text transform="translate(1711.60,834.3) scale(1.11,1) rotate(-74.2) scale(0.97,1)" x="1.4" letter-spacing="1.4" font-size="15.3" text-anchor="end" stroke="#231815" stroke-width="0.7">77</text><text transform="translate(1731.20,834.3) scale(1.11,1) rotate(-74.2) scale(0.97,1)" x="1.4" letter-spacing="1.4" font-size="15.3" text-anchor="end" stroke="#231815" stroke-width="0.7">78</text><text transform="translate(1750.80,834.3) scale(1.11,1) rotate(-74.2) scale(0.97,1)" x="1.4" letter-spacing="1.4" font-size="15.3" text-anchor="end" stroke="#231815" stroke-width="0.7">79</text><text transform="translate(1770.40,834.3) scale(1.11,1) rotate(-74.2) scale(0.97,1)" x="1.4" letter-spacing="1.4" font-size="15.3" text-anchor="end" stroke="#231815" stroke-width="0.7">80</text><text transform="translate(1790.00,834.3) scale(1.11,1) rotate(-74.2) scale(0.97,1)" x="1.4" letter-spacing="1.4" font-size="15.3" text-anchor="end" stroke="#231815" stroke-width="0.7">81</text><text transform="translate(1809.60,834.3) scale(1.11,1) rotate(-74.2) scale(0.97,1)" x="1.4" letter-spacing="1.4" font-size="15.3" text-anchor="end" stroke="#231815" stroke-width="0.7">82</text><text transform="translate(1829.20,834.3) scale(1.11,1) rotate(-74.2) scale(0.97,1)" x="1.4" letter-spacing="1.4" font-size="15.3" text-anchor="end" stroke="#231815" stroke-width="0.7">83</text><text transform="translate(1848.80,834.3) scale(1.11,1) rotate(-74.2) scale(0.97,1)" x="1.4" letter-spacing="1.4" font-size="15.3" text-anchor="end" stroke="#231815" stroke-width="0.7">84</text><text transform="translate(1868.40,834.3) scale(1.11,1) rotate(-74.2) scale(0.97,1)" x="1.4" letter-spacing="1.4" font-size="15.3" text-anchor="end" stroke="#231815" stroke-width="0.7">85</text><text transform="translate(1888.00,834.3) scale(1.11,1) rotate(-74.2) scale(0.97,1)" x="1.4" letter-spacing="1.4" font-size="15.3" text-anchor="end" stroke="#231815" stroke-width="0.7">86</text><text transform="translate(1907.60,834.3) scale(1.11,1) rotate(-74.2) scale(0.97,1)" x="1.4" letter-spacing="1.4" font-size="15.3" text-anchor="end" stroke="#231815" stroke-width="0.7">87</text><text transform="translate(1927.20,834.3) scale(1.11,1) rotate(-74.2) scale(0.97,1)" x="1.4" letter-spacing="1.4" font-size="15.3" text-anchor="end" stroke="#231815" stroke-width="0.7">88</text><text transform="translate(1946.80,834.3) scale(1.11,1) rotate(-74.2) scale(0.97,1)" x="1.4" letter-spacing="1.4" font-size="15.3" text-anchor="end" stroke="#231815" stroke-width="0.7">89</text><text transform="translate(1966.40,834.3) scale(1.11,1) rotate(-74.2) scale(0.97,1)" x="1.4" letter-spacing="1.4" font-size="15.3" text-anchor="end" stroke="#231815" stroke-width="0.7">90</text><path d="M215.9,815.5V823.2M235.5,815.5V823.2M255.1,815.5V823.2M274.7,815.5V823.2M294.3,815.5V823.2M313.9,815.5V823.2M333.5,815.5V823.2M353.1,815.5V823.2M372.7,815.5V823.2M392.3,815.5V823.2M411.9,815.5V823.2M431.5,815.5V823.2M451.1,815.5V823.2M470.7,815.5V823.2M490.3,815.5V823.2M509.9,815.5V823.2M529.5,815.5V823.2M549.1,815.5V823.2M568.7,815.5V823.2M588.3,815.5V823.2M607.9,815.5V823.2M627.5,815.5V823.2M647.1,815.5V823.2M666.7,815.5V823.2M686.3,815.5V823.2M705.9,815.5V823.2M725.5,815.5V823.2M745.1,815.5V823.2M764.7,815.5V823.2M784.3,815.5V823.2M803.9,815.5V823.2M823.5,815.5V823.2M843.1,815.5V823.2M862.7,815.5V823.2M882.3,815.5V823.2M901.9,815.5V823.2M921.5,815.5V823.2M941.1,815.5V823.2M960.7,815.5V823.2M980.3,815.5V823.2M999.9,815.5V823.2M1019.5,815.5V823.2M1039.1,815.5V823.2M1058.7,815.5V823.2M1078.3,815.5V823.2M1097.9,815.5V823.2M1117.5,815.5V823.2M1137.1,815.5V823.2M1156.7,815.5V823.2M1176.3,815.5V823.2M1195.9,815.5V823.2M1215.5,815.5V823.2M1235.1,815.5V823.2M1254.7,815.5V823.2M1274.3,815.5V823.2M1293.9,815.5V823.2M1313.5,815.5V823.2M1333.1,815.5V823.2M1352.7,815.5V823.2M1372.3,815.5V823.2M1391.9,815.5V823.2M1411.5,815.5V823.2M1431.1,815.5V823.2M1450.7,815.5V823.2M1470.3,815.5V823.2M1489.9,815.5V823.2M1509.5,815.5V823.2M1529.1,815.5V823.2M1548.7,815.5V823.2M1568.3,815.5V823.2M1587.9,815.5V823.2M1607.5,815.5V823.2M1627.1,815.5V823.2M1646.7,815.5V823.2M1666.3,815.5V823.2M1685.9,815.5V823.2M1705.5,815.5V823.2M1725.1,815.5V823.2M1744.7,815.5V823.2M1764.3,815.5V823.2M1783.9,815.5V823.2M1803.5,815.5V823.2M1823.1,815.5V823.2M1842.7,815.5V823.2M1862.3,815.5V823.2M1881.9,815.5V823.2M1901.5,815.5V823.2M1921.1,815.5V823.2M1940.7,815.5V823.2M1960.3,815.5V823.2" stroke="#000" stroke-width="5.6" fill="none"/>
<text transform="translate(457.27,589.77) scale(0.9928,1)" font-size="34.13" stroke-width="0.45">ER</text>
<text transform="translate(503.68,578.18) scale(1.0628,1)" font-size="18.73" stroke-width="0.45">+</text>
<text transform="translate(1064.59,591.38) scale(0.9614,1)" font-size="34.57" stroke-width="0.45">TNBC</text>
<text transform="translate(1663.00,589.88) scale(0.9788,1)" font-size="34.20" stroke-width="0.45">HER2</text>
<text transform="translate(1752.89,577.95) scale(0.9991,1)" font-size="18.33" stroke-width="0.45">+</text>
<text transform="translate(37.55,596.81) scale(0.9994,1)" font-size="66.87" stroke-width="0.45">d</text>
<rect x="201.3" y="920" width="5.4" height="229" fill="#000"/>
<rect x="204.5" y="916.2" width="172.8" height="227.4" fill="#edf6f9"/>
<rect x="377.3" y="916.2" width="313.4" height="227.4" fill="#fdfdf6"/>
<rect x="690.7" y="916.2" width="310.8" height="227.4" fill="#fdf3f8"/>
<rect x="204.5" y="920" width="2.4" height="224" fill="#3c4648"/>
<clipPath id="clipB"><rect x="200" y="915" width="801.5" height="240"/></clipPath>
<g clip-path="url(#clipB)"><circle cx="212.0" cy="951.2" r="4.5" fill="#7e629a"/><circle cx="227.7" cy="951.2" r="4.95" fill="#7e69a1"/><circle cx="243.4" cy="951.2" r="4.15" fill="#7d5b94"/><circle cx="259.1" cy="951.2" r="3.8" fill="#7d578f"/><circle cx="274.8" cy="951.2" r="4.95" fill="#7e69a1"/><circle cx="290.5" cy="951.2" r="4.5" fill="#7e629a"/><circle cx="306.2" cy="951.2" r="4.5" fill="#7e629a"/><circle cx="321.9" cy="951.2" r="4.15" fill="#7d5b94"/><circle cx="337.6" cy="951.2" r="4.15" fill="#7d5b94"/><circle cx="353.3" cy="951.2" r="5.45" fill="#7d70a5"/><circle cx="368.9" cy="951.2" r="4.5" fill="#7e629a"/><circle cx="384.6" cy="951.2" r="4.5" fill="#836599"/><circle cx="400.3" cy="951.2" r="4.15" fill="#835e93"/><circle cx="416.0" cy="951.2" r="4.5" fill="#836599"/><circle cx="431.7" cy="951.2" r="4.15" fill="#835e93"/><circle cx="447.4" cy="951.2" r="5.9" fill="#817ba8"/><circle cx="463.1" cy="951.2" r="4.5" fill="#836599"/><circle cx="478.8" cy="951.2" r="5.45" fill="#8372a4"/><circle cx="494.5" cy="951.2" r="4.5" fill="#836599"/><circle cx="510.2" cy="951.2" r="4.95" fill="#846ca0"/><circle cx="525.9" cy="951.2" r="4.5" fill="#836599"/><circle cx="541.6" cy="951.2" r="4.5" fill="#836599"/><circle cx="557.3" cy="951.2" r="4.15" fill="#835e93"/><circle cx="573.0" cy="951.2" r="3.8" fill="#82598e"/><circle cx="588.7" cy="951.2" r="4.95" fill="#846ca0"/><circle cx="604.4" cy="951.2" r="4.15" fill="#835e93"/><circle cx="620.1" cy="951.2" r="4.5" fill="#836599"/><circle cx="635.8" cy="951.2" r="5.9" fill="#817ba8"/><circle cx="651.5" cy="951.2" r="4.5" fill="#836599"/><circle cx="667.2" cy="951.2" r="4.15" fill="#835e93"/><circle cx="682.9" cy="951.2" r="4.5" fill="#836599"/><circle cx="698.5" cy="951.2" r="4.15" fill="#835b93"/><circle cx="714.2" cy="951.2" r="5.9" fill="#8177a9"/><circle cx="729.9" cy="951.2" r="4.5" fill="#83619a"/><circle cx="745.6" cy="951.2" r="5.45" fill="#836fa4"/><circle cx="761.3" cy="951.2" r="4.95" fill="#8468a0"/><circle cx="777.0" cy="951.2" r="4.95" fill="#8468a0"/><circle cx="792.7" cy="951.2" r="4.5" fill="#83619a"/><circle cx="808.4" cy="951.2" r="4.95" fill="#8468a0"/><circle cx="824.1" cy="951.2" r="5.45" fill="#836fa4"/><circle cx="839.8" cy="951.2" r="5.45" fill="#836fa4"/><circle cx="855.5" cy="951.2" r="4.5" fill="#83619a"/><circle cx="871.2" cy="951.2" r="4.15" fill="#835b93"/><circle cx="886.9" cy="951.2" r="4.95" fill="#8468a0"/><circle cx="902.6" cy="951.2" r="4.95" fill="#8468a0"/><circle cx="918.3" cy="951.2" r="4.15" fill="#835b93"/><circle cx="934.0" cy="951.2" r="3.8" fill="#82568f"/><circle cx="949.7" cy="951.2" r="5.45" fill="#836fa4"/><circle cx="965.4" cy="951.2" r="4.5" fill="#83619a"/><circle cx="981.1" cy="951.2" r="4.5" fill="#83619a"/><circle cx="996.8" cy="951.2" r="5.45" fill="#836fa4"/><circle cx="212.0" cy="1006.8" r="5.9" fill="#7b78a9"/><circle cx="227.7" cy="1006.8" r="5.45" fill="#7d70a5"/><circle cx="243.4" cy="1006.8" r="4.95" fill="#7e69a1"/><circle cx="259.1" cy="1006.8" r="3.8" fill="#7d578f"/><circle cx="274.8" cy="1006.8" r="5.45" fill="#7d70a5"/><circle cx="290.5" cy="1006.8" r="4.95" fill="#7e69a1"/><circle cx="306.2" cy="1006.8" r="4.95" fill="#7e69a1"/><circle cx="321.9" cy="1006.8" r="4.15" fill="#7d5b94"/><circle cx="337.6" cy="1006.8" r="4.15" fill="#7d5b94"/><circle cx="353.3" cy="1006.8" r="5.45" fill="#7d70a5"/><circle cx="368.9" cy="1006.8" r="4.95" fill="#7e69a1"/><circle cx="384.6" cy="1006.8" r="5.9" fill="#817ba8"/><circle cx="400.3" cy="1006.8" r="4.15" fill="#835e93"/><circle cx="416.0" cy="1006.8" r="4.15" fill="#835e93"/><circle cx="431.7" cy="1006.8" r="4.5" fill="#836599"/><circle cx="447.4" cy="1006.8" r="5.9" fill="#817ba8"/><circle cx="463.1" cy="1006.8" r="5.45" fill="#8372a4"/><circle cx="478.8" cy="1006.8" r="5.9" fill="#817ba8"/><circle cx="494.5" cy="1006.8" r="4.95" fill="#846ca0"/><circle cx="510.2" cy="1006.8" r="4.95" fill="#846ca0"/><circle cx="525.9" cy="1006.8" r="4.5" fill="#836599"/><circle cx="541.6" cy="1006.8" r="4.5" fill="#836599"/><circle cx="557.3" cy="1006.8" r="4.95" fill="#846ca0"/><circle cx="573.0" cy="1006.8" r="5.9" fill="#817ba8"/><circle cx="588.7" cy="1006.8" r="4.95" fill="#846ca0"/><circle cx="604.4" cy="1006.8" r="4.15" fill="#835e93"/><circle cx="620.1" cy="1006.8" r="4.95" fill="#846ca0"/><circle cx="635.8" cy="1006.8" r="5.9" fill="#817ba8"/><circle cx="651.5" cy="1006.8" r="5.45" fill="#8372a4"/><circle cx="667.2" cy="1006.8" r="4.15" fill="#835e93"/><circle cx="682.9" cy="1006.8" r="5.45" fill="#8372a4"/><circle cx="698.5" cy="1006.8" r="5.45" fill="#836fa4"/><circle cx="714.2" cy="1006.8" r="5.45" fill="#836fa4"/><circle cx="729.9" cy="1006.8" r="4.95" fill="#8468a0"/><circle cx="745.6" cy="1006.8" r="4.95" fill="#8468a0"/><circle cx="761.3" cy="1006.8" r="4.95" fill="#8468a0"/><circle cx="777.0" cy="1006.8" r="4.95" fill="#8468a0"/><circle cx="792.7" cy="1006.8" r="4.95" fill="#8468a0"/><circle cx="808.4" cy="1006.8" r="4.95" fill="#8468a0"/><circle cx="824.1" cy="1006.8" r="5.45" fill="#836fa4"/><circle cx="839.8" cy="1006.8" r="5.45" fill="#836fa4"/><circle cx="855.5" cy="1006.8" r="4.95" fill="#8468a0"/><circle cx="871.2" cy="1006.8" r="4.95" fill="#8468a0"/><circle cx="886.9" cy="1006.8" r="4.95" fill="#8468a0"/><circle cx="902.6" cy="1006.8" r="4.5" fill="#83619a"/><circle cx="918.3" cy="1006.8" r="4.15" fill="#835b93"/><circle cx="934.0" cy="1006.8" r="4.95" fill="#8468a0"/><circle cx="949.7" cy="1006.8" r="5.9" fill="#8177a9"/><circle cx="965.4" cy="1006.8" r="4.95" fill="#8468a0"/><circle cx="981.1" cy="1006.8" r="4.15" fill="#835b93"/><circle cx="996.8" cy="1006.8" r="5.45" fill="#836fa4"/><circle cx="212.0" cy="1062.3" r="5.45" fill="#7d70a5"/><circle cx="227.7" cy="1062.3" r="5.45" fill="#7d70a5"/><circle cx="243.4" cy="1062.3" r="4.15" fill="#7d5b94"/><circle cx="259.1" cy="1062.3" r="3.8" fill="#7d578f"/><circle cx="274.8" cy="1062.3" r="5.9" fill="#7b78a9"/><circle cx="290.5" cy="1062.3" r="5.45" fill="#7d70a5"/><circle cx="306.2" cy="1062.3" r="3.8" fill="#7d578f"/><circle cx="321.9" cy="1062.3" r="4.95" fill="#7e69a1"/><circle cx="337.6" cy="1062.3" r="4.5" fill="#7e629a"/><circle cx="353.3" cy="1062.3" r="5.9" fill="#7b78a9"/><circle cx="368.9" cy="1062.3" r="4.95" fill="#7e69a1"/><circle cx="384.6" cy="1062.3" r="5.45" fill="#8372a4"/><circle cx="400.3" cy="1062.3" r="4.15" fill="#835e93"/><circle cx="416.0" cy="1062.3" r="4.95" fill="#846ca0"/><circle cx="431.7" cy="1062.3" r="5.45" fill="#8372a4"/><circle cx="447.4" cy="1062.3" r="5.9" fill="#817ba8"/><circle cx="463.1" cy="1062.3" r="5.45" fill="#8372a4"/><circle cx="478.8" cy="1062.3" r="5.45" fill="#8372a4"/><circle cx="494.5" cy="1062.3" r="4.95" fill="#846ca0"/><circle cx="510.2" cy="1062.3" r="4.95" fill="#846ca0"/><circle cx="525.9" cy="1062.3" r="5.9" fill="#817ba8"/><circle cx="541.6" cy="1062.3" r="4.5" fill="#836599"/><circle cx="557.3" cy="1062.3" r="5.9" fill="#817ba8"/><circle cx="573.0" cy="1062.3" r="5.45" fill="#8372a4"/><circle cx="588.7" cy="1062.3" r="5.9" fill="#817ba8"/><circle cx="604.4" cy="1062.3" r="4.15" fill="#835e93"/><circle cx="620.1" cy="1062.3" r="4.5" fill="#836599"/><circle cx="635.8" cy="1062.3" r="5.45" fill="#8372a4"/><circle cx="651.5" cy="1062.3" r="4.5" fill="#836599"/><circle cx="667.2" cy="1062.3" r="4.15" fill="#835e93"/><circle cx="682.9" cy="1062.3" r="4.95" fill="#846ca0"/><circle cx="698.5" cy="1062.3" r="4.5" fill="#83619a"/><circle cx="714.2" cy="1062.3" r="5.45" fill="#836fa4"/><circle cx="729.9" cy="1062.3" r="4.5" fill="#83619a"/><circle cx="745.6" cy="1062.3" r="4.5" fill="#83619a"/><circle cx="761.3" cy="1062.3" r="4.95" fill="#8468a0"/><circle cx="777.0" cy="1062.3" r="4.5" fill="#83619a"/><circle cx="792.7" cy="1062.3" r="4.5" fill="#83619a"/><circle cx="808.4" cy="1062.3" r="6.35" fill="#7f7eac"/><circle cx="824.1" cy="1062.3" r="5.9" fill="#8177a9"/><circle cx="839.8" cy="1062.3" r="5.45" fill="#836fa4"/><circle cx="855.5" cy="1062.3" r="4.95" fill="#8468a0"/><circle cx="871.2" cy="1062.3" r="4.95" fill="#8468a0"/><circle cx="886.9" cy="1062.3" r="5.45" fill="#836fa4"/><circle cx="902.6" cy="1062.3" r="5.45" fill="#836fa4"/><circle cx="918.3" cy="1062.3" r="4.5" fill="#83619a"/><circle cx="934.0" cy="1062.3" r="4.15" fill="#835b93"/><circle cx="949.7" cy="1062.3" r="5.45" fill="#836fa4"/><circle cx="965.4" cy="1062.3" r="4.95" fill="#8468a0"/><circle cx="981.1" cy="1062.3" r="4.15" fill="#835b93"/><circle cx="996.8" cy="1062.3" r="5.45" fill="#836fa4"/><circle cx="212.0" cy="1118.3" r="4.95" fill="#7e69a1"/><circle cx="227.7" cy="1118.3" r="5.9" fill="#7b78a9"/><circle cx="243.4" cy="1118.3" r="4.95" fill="#7e69a1"/><circle cx="259.1" cy="1118.3" r="3.8" fill="#7d578f"/><circle cx="274.8" cy="1118.3" r="4.95" fill="#7e69a1"/><circle cx="290.5" cy="1118.3" r="4.5" fill="#7e629a"/><circle cx="306.2" cy="1118.3" r="5.45" fill="#7d70a5"/><circle cx="321.9" cy="1118.3" r="4.5" fill="#7e629a"/><circle cx="337.6" cy="1118.3" r="4.15" fill="#7d5b94"/><circle cx="353.3" cy="1118.3" r="5.45" fill="#7d70a5"/><circle cx="368.9" cy="1118.3" r="4.5" fill="#7e629a"/><circle cx="384.6" cy="1118.3" r="5.45" fill="#8372a4"/><circle cx="400.3" cy="1118.3" r="4.15" fill="#835e93"/><circle cx="416.0" cy="1118.3" r="5.45" fill="#8372a4"/><circle cx="431.7" cy="1118.3" r="5.45" fill="#8372a4"/><circle cx="447.4" cy="1118.3" r="5.45" fill="#8372a4"/><circle cx="463.1" cy="1118.3" r="5.45" fill="#8372a4"/><circle cx="478.8" cy="1118.3" r="5.9" fill="#817ba8"/><circle cx="494.5" cy="1118.3" r="4.95" fill="#846ca0"/><circle cx="510.2" cy="1118.3" r="5.45" fill="#8372a4"/><circle cx="525.9" cy="1118.3" r="4.95" fill="#846ca0"/><circle cx="541.6" cy="1118.3" r="4.5" fill="#836599"/><circle cx="557.3" cy="1118.3" r="4.95" fill="#846ca0"/><circle cx="573.0" cy="1118.3" r="4.5" fill="#836599"/><circle cx="588.7" cy="1118.3" r="5.9" fill="#817ba8"/><circle cx="604.4" cy="1118.3" r="4.5" fill="#836599"/><circle cx="620.1" cy="1118.3" r="4.5" fill="#836599"/><circle cx="635.8" cy="1118.3" r="5.9" fill="#817ba8"/><circle cx="651.5" cy="1118.3" r="4.5" fill="#836599"/><circle cx="667.2" cy="1118.3" r="4.15" fill="#835e93"/><circle cx="682.9" cy="1118.3" r="4.95" fill="#846ca0"/><circle cx="698.5" cy="1118.3" r="5.45" fill="#836fa4"/><circle cx="714.2" cy="1118.3" r="4.95" fill="#8468a0"/><circle cx="729.9" cy="1118.3" r="4.15" fill="#835b93"/><circle cx="745.6" cy="1118.3" r="4.95" fill="#8468a0"/><circle cx="761.3" cy="1118.3" r="5.45" fill="#836fa4"/><circle cx="777.0" cy="1118.3" r="5.45" fill="#836fa4"/><circle cx="792.7" cy="1118.3" r="4.95" fill="#8468a0"/><circle cx="808.4" cy="1118.3" r="5.45" fill="#836fa4"/><circle cx="824.1" cy="1118.3" r="5.45" fill="#836fa4"/><circle cx="839.8" cy="1118.3" r="4.5" fill="#83619a"/><circle cx="855.5" cy="1118.3" r="4.95" fill="#8468a0"/><circle cx="871.2" cy="1118.3" r="5.45" fill="#836fa4"/><circle cx="886.9" cy="1118.3" r="4.95" fill="#8468a0"/><circle cx="902.6" cy="1118.3" r="4.95" fill="#8468a0"/><circle cx="918.3" cy="1118.3" r="5.45" fill="#836fa4"/><circle cx="934.0" cy="1118.3" r="5.45" fill="#836fa4"/><circle cx="949.7" cy="1118.3" r="5.45" fill="#836fa4"/><circle cx="965.4" cy="1118.3" r="4.5" fill="#83619a"/><circle cx="981.1" cy="1118.3" r="4.5" fill="#83619a"/><circle cx="996.8" cy="1118.3" r="5.45" fill="#836fa4"/></g>
<rect x="201.3" y="1143.4" width="806.3" height="5.5" fill="#000"/>
<rect x="204.5" y="1143.4" width="172.8" height="2.6" fill="#3b4547"/>
<rect x="377.3" y="1143.4" width="313.4" height="2.6" fill="#4a4944"/>
<rect x="690.7" y="1143.4" width="310.8" height="2.6" fill="#494346"/>
<rect x="194.2" y="948.5" width="7.5" height="5.5" fill="#000"/>
<text transform="translate(124.24,960.48) scale(1.0018,1)" font-size="28.91" stroke-width="0.45">Bare</text>
<rect x="194.2" y="1004.1" width="7.5" height="5.5" fill="#000"/>
<text transform="translate(93.86,1018.98) scale(0.9858,1)" font-size="29.06" stroke-width="0.45">BT-474</text>
<rect x="194.2" y="1059.6" width="7.5" height="5.5" fill="#000"/>
<text transform="translate(10.98,1074.68) scale(0.9715,1)" font-size="29.20" stroke-width="0.45">MDA-MB-231</text>
<rect x="194.2" y="1115.6" width="7.5" height="5.5" fill="#000"/>
<text transform="translate(101.74,1131.38) scale(0.9907,1)" font-size="29.20" stroke-width="0.45">MCF-7</text>
<text transform="translate(218.40,1167.0) scale(1.1,1) rotate(-78) skewX(-7) scale(0.97,1)" x="0.9" letter-spacing="0.9" font-size="15.3" text-anchor="end" stroke="#231815" stroke-width="0.7">91</text><text transform="translate(234.09,1167.0) scale(1.1,1) rotate(-78) skewX(-7) scale(0.97,1)" x="0.9" letter-spacing="0.9" font-size="15.3" text-anchor="end" stroke="#231815" stroke-width="0.7">92</text><text transform="translate(249.79,1167.0) scale(1.1,1) rotate(-78) skewX(-7) scale(0.97,1)" x="0.9" letter-spacing="0.9" font-size="15.3" text-anchor="end" stroke="#231815" stroke-width="0.7">93</text><text transform="translate(265.48,1167.0) scale(1.1,1) rotate(-78) skewX(-7) scale(0.97,1)" x="0.9" letter-spacing="0.9" font-size="15.3" text-anchor="end" stroke="#231815" stroke-width="0.7">94</text><text transform="translate(281.18,1167.0) scale(1.1,1) rotate(-78) skewX(-7) scale(0.97,1)" x="0.9" letter-spacing="0.9" font-size="15.3" text-anchor="end" stroke="#231815" stroke-width="0.7">95</text><text transform="translate(296.88,1167.0) scale(1.1,1) rotate(-78) skewX(-7) scale(0.97,1)" x="0.9" letter-spacing="0.9" font-size="15.3" text-anchor="end" stroke="#231815" stroke-width="0.7">96</text><text transform="translate(312.57,1167.0) scale(1.1,1) rotate(-78) skewX(-7) scale(0.97,1)" x="0.9" letter-spacing="0.9" font-size="15.3" text-anchor="end" stroke="#231815" stroke-width="0.7">97</text><text transform="translate(328.26,1167.0) scale(1.1,1) rotate(-78) skewX(-7) scale(0.97,1)" x="0.9" letter-spacing="0.9" font-size="15.3" text-anchor="end" stroke="#231815" stroke-width="0.7">98</text><text transform="translate(343.96,1167.0) scale(1.1,1) rotate(-78) skewX(-7) scale(0.97,1)" x="0.9" letter-spacing="0.9" font-size="15.3" text-anchor="end" stroke="#231815" stroke-width="0.7">99</text><text transform="translate(359.65,1167.0) scale(1.1,1) rotate(-78) skewX(-7) scale(0.97,1)" x="0.9" letter-spacing="0.9" font-size="15.3" text-anchor="end" stroke="#231815" stroke-width="0.7">100</text><text transform="translate(375.35,1167.0) scale(1.1,1) rotate(-78) skewX(-7) scale(0.97,1)" x="0.9" letter-spacing="0.9" font-size="15.3" text-anchor="end" stroke="#231815" stroke-width="0.7">101</text><text transform="translate(391.04,1167.0) scale(1.1,1) rotate(-78) skewX(-7) scale(0.97,1)" x="0.9" letter-spacing="0.9" font-size="15.3" text-anchor="end" stroke="#231815" stroke-width="0.7">102</text><text transform="translate(406.74,1167.0) scale(1.1,1) rotate(-78) skewX(-7) scale(0.97,1)" x="0.9" letter-spacing="0.9" font-size="15.3" text-anchor="end" stroke="#231815" stroke-width="0.7">103</text><text transform="translate(422.43,1167.0) scale(1.1,1) rotate(-78) skewX(-7) scale(0.97,1)" x="0.9" letter-spacing="0.9" font-size="15.3" text-anchor="end" stroke="#231815" stroke-width="0.7">104</text><text transform="translate(438.13,1167.0) scale(1.1,1) rotate(-78) skewX(-7) scale(0.97,1)" x="0.9" letter-spacing="0.9" font-size="15.3" text-anchor="end" stroke="#231815" stroke-width="0.7">105</text><text transform="translate(453.82,1167.0) scale(1.1,1) rotate(-78) skewX(-7) scale(0.97,1)" x="0.9" letter-spacing="0.9" font-size="15.3" text-anchor="end" stroke="#231815" stroke-width="0.7">106</text><text transform="translate(469.52,1167.0) scale(1.1,1) rotate(-78) skewX(-7) scale(0.97,1)" x="0.9" letter-spacing="0.9" font-size="15.3" text-anchor="end" stroke="#231815" stroke-width="0.7">107</text><text transform="translate(485.21,1167.0) scale(1.1,1) rotate(-78) skewX(-7) scale(0.97,1)" x="0.9" letter-spacing="0.9" font-size="15.3" text-anchor="end" stroke="#231815" stroke-width="0.7">108</text><text transform="translate(500.91,1167.0) scale(1.1,1) rotate(-78) skewX(-7) scale(0.97,1)" x="0.9" letter-spacing="0.9" font-size="15.3" text-anchor="end" stroke="#231815" stroke-width="0.7">109</text><text transform="translate(516.61,1167.0) scale(1.1,1) rotate(-78) skewX(-7) scale(0.97,1)" x="0.9" letter-spacing="0.9" font-size="15.3" text-anchor="end" stroke="#231815" stroke-width="0.7">110</text><text transform="translate(532.30,1167.0) scale(1.1,1) rotate(-78) skewX(-7) scale(0.97,1)" x="0.9" letter-spacing="0.9" font-size="15.3" text-anchor="end" stroke="#231815" stroke-width="0.7">111</text><text transform="translate(548.00,1167.0) scale(1.1,1) rotate(-78) skewX(-7) scale(0.97,1)" x="0.9" letter-spacing="0.9" font-size="15.3" text-anchor="end" stroke="#231815" stroke-width="0.7">112</text><text transform="translate(563.69,1167.0) scale(1.1,1) rotate(-78) skewX(-7) scale(0.97,1)" x="0.9" letter-spacing="0.9" font-size="15.3" text-anchor="end" stroke="#231815" stroke-width="0.7">113</text><text transform="translate(579.38,1167.0) scale(1.1,1) rotate(-78) skewX(-7) scale(0.97,1)" x="0.9" letter-spacing="0.9" font-size="15.3" text-anchor="end" stroke="#231815" stroke-width="0.7">114</text><text transform="translate(595.08,1167.0) scale(1.1,1) rotate(-78) skewX(-7) scale(0.97,1)" x="0.9" letter-spacing="0.9" font-size="15.3" text-anchor="end" stroke="#231815" stroke-width="0.7">115</text><text transform="translate(610.77,1167.0) scale(1.1,1) rotate(-78) skewX(-7) scale(0.97,1)" x="0.9" letter-spacing="0.9" font-size="15.3" text-anchor="end" stroke="#231815" stroke-width="0.7">116</text><text transform="translate(626.47,1167.0) scale(1.1,1) rotate(-78) skewX(-7) scale(0.97,1)" x="0.9" letter-spacing="0.9" font-size="15.3" text-anchor="end" stroke="#231815" stroke-width="0.7">117</text><text transform="translate(642.16,1167.0) scale(1.1,1) rotate(-78) skewX(-7) scale(0.97,1)" x="0.9" letter-spacing="0.9" font-size="15.3" text-anchor="end" stroke="#231815" stroke-width="0.7">118</text><text transform="translate(657.86,1167.0) scale(1.1,1) rotate(-78) skewX(-7) scale(0.97,1)" x="0.9" letter-spacing="0.9" font-size="15.3" text-anchor="end" stroke="#231815" stroke-width="0.7">119</text><text transform="translate(673.55,1167.0) scale(1.1,1) rotate(-78) skewX(-7) scale(0.97,1)" x="0.9" letter-spacing="0.9" font-size="15.3" text-anchor="end" stroke="#231815" stroke-width="0.7">120</text><text transform="translate(689.25,1167.0) scale(1.1,1) rotate(-78) skewX(-7) scale(0.97,1)" x="0.9" letter-spacing="0.9" font-size="15.3" text-anchor="end" stroke="#231815" stroke-width="0.7">121</text><text transform="translate(704.95,1167.0) scale(1.1,1) rotate(-78) skewX(-7) scale(0.97,1)" x="0.9" letter-spacing="0.9" font-size="15.3" text-anchor="end" stroke="#231815" stroke-width="0.7">122</text><text transform="translate(720.64,1167.0) scale(1.1,1) rotate(-78) skewX(-7) scale(0.97,1)" x="0.9" letter-spacing="0.9" font-size="15.3" text-anchor="end" stroke="#231815" stroke-width="0.7">123</text><text transform="translate(736.34,1167.0) scale(1.1,1) rotate(-78) skewX(-7) scale(0.97,1)" x="0.9" letter-spacing="0.9" font-size="15.3" text-anchor="end" stroke="#231815" stroke-width="0.7">124</text><text transform="translate(752.03,1167.0) scale(1.1,1) rotate(-78) skewX(-7) scale(0.97,1)" x="0.9" letter-spacing="0.9" font-size="15.3" text-anchor="end" stroke="#231815" stroke-width="0.7">125</text><text transform="translate(767.73,1167.0) scale(1.1,1) rotate(-78) skewX(-7) scale(0.97,1)" x="0.9" letter-spacing="0.9" font-size="15.3" text-anchor="end" stroke="#231815" stroke-width="0.7">126</text><text transform="translate(783.42,1167.0) scale(1.1,1) rotate(-78) skewX(-7) scale(0.97,1)" x="0.9" letter-spacing="0.9" font-size="15.3" text-anchor="end" stroke="#231815" stroke-width="0.7">127</text><text transform="translate(799.12,1167.0) scale(1.1,1) rotate(-78) skewX(-7) scale(0.97,1)" x="0.9" letter-spacing="0.9" font-size="15.3" text-anchor="end" stroke="#231815" stroke-width="0.7">128</text><text transform="translate(814.81,1167.0) scale(1.1,1) rotate(-78) skewX(-7) scale(0.97,1)" x="0.9" letter-spacing="0.9" font-size="15.3" text-anchor="end" stroke="#231815" stroke-width="0.7">129</text><text transform="translate(830.50,1167.0) scale(1.1,1) rotate(-78) skewX(-7) scale(0.97,1)" x="0.9" letter-spacing="0.9" font-size="15.3" text-anchor="end" stroke="#231815" stroke-width="0.7">130</text><text transform="translate(846.20,1167.0) scale(1.1,1) rotate(-78) skewX(-7) scale(0.97,1)" x="0.9" letter-spacing="0.9" font-size="15.3" text-anchor="end" stroke="#231815" stroke-width="0.7">131</text><text transform="translate(861.89,1167.0) scale(1.1,1) rotate(-78) skewX(-7) scale(0.97,1)" x="0.9" letter-spacing="0.9" font-size="15.3" text-anchor="end" stroke="#231815" stroke-width="0.7">132</text><text transform="translate(877.59,1167.0) scale(1.1,1) rotate(-78) skewX(-7) scale(0.97,1)" x="0.9" letter-spacing="0.9" font-size="15.3" text-anchor="end" stroke="#231815" stroke-width="0.7">133</text><text transform="translate(893.28,1167.0) scale(1.1,1) rotate(-78) skewX(-7) scale(0.97,1)" x="0.9" letter-spacing="0.9" font-size="15.3" text-anchor="end" stroke="#231815" stroke-width="0.7">134</text><text transform="translate(908.98,1167.0) scale(1.1,1) rotate(-78) skewX(-7) scale(0.97,1)" x="0.9" letter-spacing="0.9" font-size="15.3" text-anchor="end" stroke="#231815" stroke-width="0.7">135</text><text transform="translate(924.67,1167.0) scale(1.1,1) rotate(-78) skewX(-7) scale(0.97,1)" x="0.9" letter-spacing="0.9" font-size="15.3" text-anchor="end" stroke="#231815" stroke-width="0.7">136</text><text transform="translate(940.37,1167.0) scale(1.1,1) rotate(-78) skewX(-7) scale(0.97,1)" x="0.9" letter-spacing="0.9" font-size="15.3" text-anchor="end" stroke="#231815" stroke-width="0.7">137</text><text transform="translate(956.06,1167.0) scale(1.1,1) rotate(-78) skewX(-7) scale(0.97,1)" x="0.9" letter-spacing="0.9" font-size="15.3" text-anchor="end" stroke="#231815" stroke-width="0.7">138</text><text transform="translate(971.76,1167.0) scale(1.1,1) rotate(-78) skewX(-7) scale(0.97,1)" x="0.9" letter-spacing="0.9" font-size="15.3" text-anchor="end" stroke="#231815" stroke-width="0.7">139</text><text transform="translate(987.46,1167.0) scale(1.1,1) rotate(-78) skewX(-7) scale(0.97,1)" x="0.9" letter-spacing="0.9" font-size="15.3" text-anchor="end" stroke="#231815" stroke-width="0.7">140</text><text transform="translate(1003.15,1167.0) scale(1.1,1) rotate(-78) skewX(-7) scale(0.97,1)" x="0.9" letter-spacing="0.9" font-size="15.3" text-anchor="end" stroke="#231815" stroke-width="0.7">141</text><path d="M212.0,1148.5V1155.8M227.7,1148.5V1155.8M243.4,1148.5V1155.8M259.1,1148.5V1155.8M274.8,1148.5V1155.8M290.5,1148.5V1155.8M306.2,1148.5V1155.8M321.9,1148.5V1155.8M337.6,1148.5V1155.8M353.3,1148.5V1155.8M368.9,1148.5V1155.8M384.6,1148.5V1155.8M400.3,1148.5V1155.8M416.0,1148.5V1155.8M431.7,1148.5V1155.8M447.4,1148.5V1155.8M463.1,1148.5V1155.8M478.8,1148.5V1155.8M494.5,1148.5V1155.8M510.2,1148.5V1155.8M525.9,1148.5V1155.8M541.6,1148.5V1155.8M557.3,1148.5V1155.8M573.0,1148.5V1155.8M588.7,1148.5V1155.8M604.4,1148.5V1155.8M620.1,1148.5V1155.8M635.8,1148.5V1155.8M651.5,1148.5V1155.8M667.2,1148.5V1155.8M682.9,1148.5V1155.8M698.5,1148.5V1155.8M714.2,1148.5V1155.8M729.9,1148.5V1155.8M745.6,1148.5V1155.8M761.3,1148.5V1155.8M777.0,1148.5V1155.8M792.7,1148.5V1155.8M808.4,1148.5V1155.8M824.1,1148.5V1155.8M839.8,1148.5V1155.8M855.5,1148.5V1155.8M871.2,1148.5V1155.8M886.9,1148.5V1155.8M902.6,1148.5V1155.8M918.3,1148.5V1155.8M934.0,1148.5V1155.8M949.7,1148.5V1155.8M965.4,1148.5V1155.8M981.1,1148.5V1155.8M996.8,1148.5V1155.8" stroke="#000" stroke-width="5.8" fill="none"/>
<text transform="translate(238.00,883.38) scale(1.0023,1)" font-size="33.55" stroke-width="0.45">Benign</text>
<text transform="translate(223.89,931.45) scale(1.0359,1)" font-size="32.31" stroke-width="0.45">diseases</text>
<text transform="translate(434.93,920.77) scale(0.9921,1)" font-size="33.99" stroke-width="0.45">Lung cancer</text>
<text transform="translate(804.29,926.27) scale(0.9635,1)" font-size="34.86" stroke-width="0.45">Health</text>
<defs><linearGradient id="virg" x1="0" y1="0" x2="1" y2="0"><stop offset="0" stop-color="#50045e"/><stop offset="0.15" stop-color="#4a3286"/><stop offset="0.29" stop-color="#00669a"/><stop offset="0.38" stop-color="#007f95"/><stop offset="0.5" stop-color="#009a8a"/><stop offset="0.6" stop-color="#00a882"/><stop offset="0.7" stop-color="#00b870"/><stop offset="0.79" stop-color="#10cc48"/><stop offset="0.82" stop-color="#50d830"/><stop offset="0.9" stop-color="#a8e010"/><stop offset="1" stop-color="#fde500"/></linearGradient></defs>
<rect x="1135.9" y="980.1" width="421.6" height="23.8" fill="url(#virg)" stroke="#000" stroke-width="1.9"/>
<path d="M1202.0,980V986.2M1202.0,997.8V1004" stroke="#000" stroke-width="1.6"/>
<text transform="translate(1186.92,1028.68) scale(0.9784,1)" font-size="21.65" stroke-width="0.45">0.5</text>
<path d="M1295.5,980V986.2M1295.5,997.8V1004" stroke="#000" stroke-width="1.6"/>
<text transform="translate(1288.48,1028.68) scale(0.9498,1)" font-size="21.65" stroke-width="0.45">1</text>
<path d="M1388.9,980V986.2M1388.9,997.8V1004" stroke="#000" stroke-width="1.6"/>
<text transform="translate(1373.61,1028.68) scale(0.9781,1)" font-size="21.65" stroke-width="0.45">1.5</text>
<path d="M1482.3,980V986.2M1482.3,997.8V1004" stroke="#000" stroke-width="1.6"/>
<text transform="translate(1477.49,1028.68) scale(0.9508,1)" font-size="21.65" stroke-width="0.45">2</text>
<text transform="translate(1133.79,968.4) scale(0.9817,1)" font-size="22.03" stroke-width="0.4">Peak current (<tspan class="sym" font-size="25.33">μ</tspan>A)</text>
<text transform="translate(1296.25,1073.2) scale(0.9739,1)" font-size="22.17" stroke-width="0.4">Peak current (<tspan class="sym" font-size="25.50">μ</tspan>A)</text>
<circle cx="1311.3" cy="1099.7" r="2.9" fill="#000"/>
<text transform="translate(1327.00,1107.68) scale(0.9825,1)" font-size="22.25" stroke-width="0.45">0.15</text>
<circle cx="1311.3" cy="1129.7" r="6.6" fill="#000"/>
<text transform="translate(1327.00,1137.68) scale(0.9824,1)" font-size="22.25" stroke-width="0.45">0.60</text>
<circle cx="1311.3" cy="1160.1" r="10.9" fill="#000"/>
<text transform="translate(1327.11,1168.08) scale(0.9825,1)" font-size="22.25" stroke-width="0.45">2.40</text>
</g>
</svg>
</body>
</html>
